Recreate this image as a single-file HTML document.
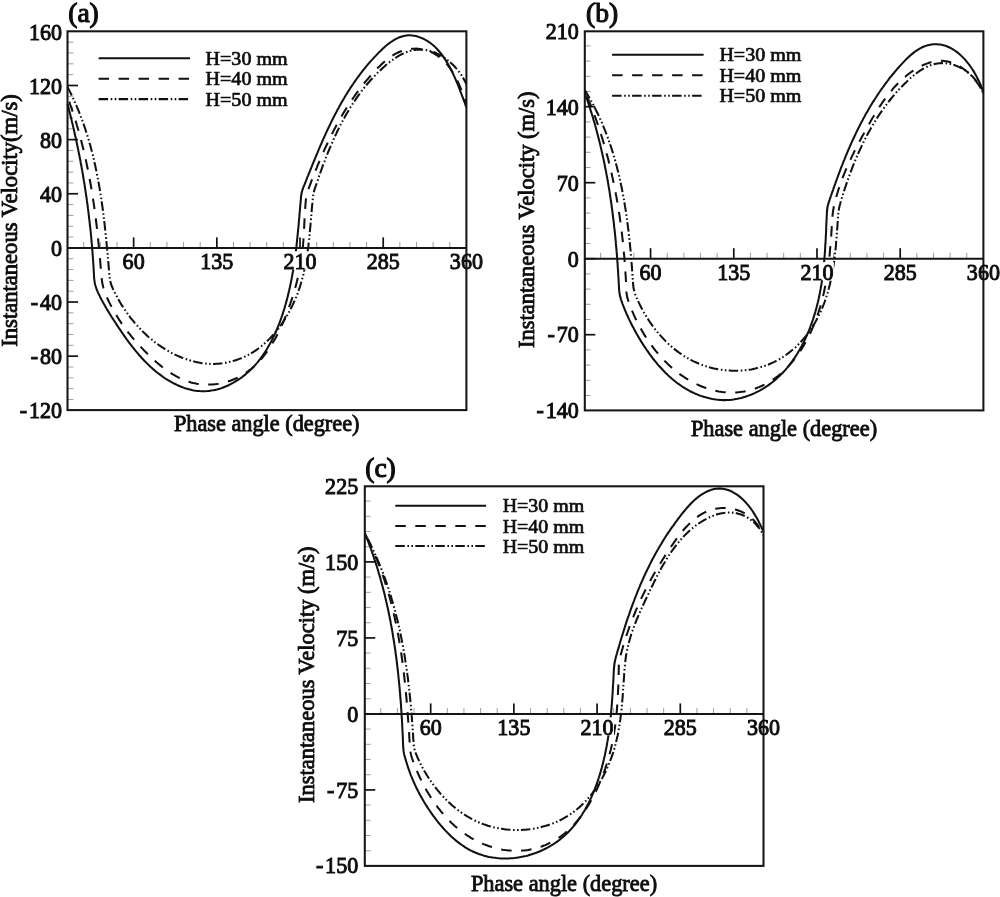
<!DOCTYPE html>
<html><head><meta charset="utf-8"><title>Instantaneous velocity vs phase angle</title>
<style>
html,body{margin:0;padding:0;background:#fff;}
body{width:1000px;height:897px;position:relative;overflow:hidden;font-family:"Liberation Serif", serif;}
svg text.t{font-family:"Liberation Serif", serif;fill:#0d0d0d;stroke:#0d0d0d;stroke-width:0.7;}
svg text.b{stroke-width:0.85;}
svg text.k{stroke-width:1.0;}
svg text.l{stroke-width:1.15;}
</style></head><body>
<svg width="1000" height="897" viewBox="0 0 1000 897" style="display:block;position:absolute;left:0;top:0;filter:grayscale(1) blur(0.45px)">
<rect x="0" y="0" width="1000" height="897" fill="#fff"/>
<g><line x1="67.50" y1="399.48" x2="73.40" y2="399.48" stroke="#999" stroke-width="0.95"/>
<line x1="67.50" y1="388.65" x2="73.40" y2="388.65" stroke="#999" stroke-width="0.95"/>
<line x1="67.50" y1="377.83" x2="73.40" y2="377.83" stroke="#999" stroke-width="0.95"/>
<line x1="67.50" y1="367.00" x2="73.40" y2="367.00" stroke="#999" stroke-width="0.95"/>
<line x1="67.50" y1="356.17" x2="78.00" y2="356.17" stroke="#111" stroke-width="1.70"/>
<line x1="67.50" y1="345.34" x2="73.40" y2="345.34" stroke="#999" stroke-width="0.95"/>
<line x1="67.50" y1="334.52" x2="73.40" y2="334.52" stroke="#999" stroke-width="0.95"/>
<line x1="67.50" y1="323.69" x2="73.40" y2="323.69" stroke="#999" stroke-width="0.95"/>
<line x1="67.50" y1="312.86" x2="73.40" y2="312.86" stroke="#999" stroke-width="0.95"/>
<line x1="67.50" y1="302.04" x2="78.00" y2="302.04" stroke="#111" stroke-width="1.70"/>
<line x1="67.50" y1="291.21" x2="73.40" y2="291.21" stroke="#999" stroke-width="0.95"/>
<line x1="67.50" y1="280.38" x2="73.40" y2="280.38" stroke="#999" stroke-width="0.95"/>
<line x1="67.50" y1="269.55" x2="73.40" y2="269.55" stroke="#999" stroke-width="0.95"/>
<line x1="67.50" y1="258.73" x2="73.40" y2="258.73" stroke="#999" stroke-width="0.95"/>
<line x1="67.50" y1="247.90" x2="78.00" y2="247.90" stroke="#111" stroke-width="1.70"/>
<line x1="67.50" y1="237.07" x2="73.40" y2="237.07" stroke="#999" stroke-width="0.95"/>
<line x1="67.50" y1="226.25" x2="73.40" y2="226.25" stroke="#999" stroke-width="0.95"/>
<line x1="67.50" y1="215.42" x2="73.40" y2="215.42" stroke="#999" stroke-width="0.95"/>
<line x1="67.50" y1="204.59" x2="73.40" y2="204.59" stroke="#999" stroke-width="0.95"/>
<line x1="67.50" y1="193.76" x2="78.00" y2="193.76" stroke="#111" stroke-width="1.70"/>
<line x1="67.50" y1="182.94" x2="73.40" y2="182.94" stroke="#999" stroke-width="0.95"/>
<line x1="67.50" y1="172.11" x2="73.40" y2="172.11" stroke="#999" stroke-width="0.95"/>
<line x1="67.50" y1="161.28" x2="73.40" y2="161.28" stroke="#999" stroke-width="0.95"/>
<line x1="67.50" y1="150.46" x2="73.40" y2="150.46" stroke="#999" stroke-width="0.95"/>
<line x1="67.50" y1="139.63" x2="78.00" y2="139.63" stroke="#111" stroke-width="1.70"/>
<line x1="67.50" y1="128.80" x2="73.40" y2="128.80" stroke="#999" stroke-width="0.95"/>
<line x1="67.50" y1="117.97" x2="73.40" y2="117.97" stroke="#999" stroke-width="0.95"/>
<line x1="67.50" y1="107.15" x2="73.40" y2="107.15" stroke="#999" stroke-width="0.95"/>
<line x1="67.50" y1="96.32" x2="73.40" y2="96.32" stroke="#999" stroke-width="0.95"/>
<line x1="67.50" y1="85.49" x2="78.00" y2="85.49" stroke="#111" stroke-width="1.70"/>
<line x1="67.50" y1="74.66" x2="73.40" y2="74.66" stroke="#999" stroke-width="0.95"/>
<line x1="67.50" y1="63.84" x2="73.40" y2="63.84" stroke="#999" stroke-width="0.95"/>
<line x1="67.50" y1="53.01" x2="73.40" y2="53.01" stroke="#999" stroke-width="0.95"/>
<line x1="67.50" y1="42.18" x2="73.40" y2="42.18" stroke="#999" stroke-width="0.95"/>
<line x1="83.74" y1="247.90" x2="83.74" y2="242.00" stroke="#999" stroke-width="0.95"/>
<line x1="100.38" y1="247.90" x2="100.38" y2="242.00" stroke="#999" stroke-width="0.95"/>
<line x1="117.01" y1="247.90" x2="117.01" y2="242.00" stroke="#999" stroke-width="0.95"/>
<line x1="133.65" y1="247.90" x2="133.65" y2="237.40" stroke="#111" stroke-width="1.70"/>
<line x1="150.29" y1="247.90" x2="150.29" y2="242.00" stroke="#999" stroke-width="0.95"/>
<line x1="166.92" y1="247.90" x2="166.92" y2="242.00" stroke="#999" stroke-width="0.95"/>
<line x1="183.56" y1="247.90" x2="183.56" y2="242.00" stroke="#999" stroke-width="0.95"/>
<line x1="200.20" y1="247.90" x2="200.20" y2="242.00" stroke="#999" stroke-width="0.95"/>
<line x1="216.84" y1="247.90" x2="216.84" y2="237.40" stroke="#111" stroke-width="1.70"/>
<line x1="233.48" y1="247.90" x2="233.48" y2="242.00" stroke="#999" stroke-width="0.95"/>
<line x1="250.11" y1="247.90" x2="250.11" y2="242.00" stroke="#999" stroke-width="0.95"/>
<line x1="266.75" y1="247.90" x2="266.75" y2="242.00" stroke="#999" stroke-width="0.95"/>
<line x1="283.39" y1="247.90" x2="283.39" y2="242.00" stroke="#999" stroke-width="0.95"/>
<line x1="300.02" y1="247.90" x2="300.02" y2="237.40" stroke="#111" stroke-width="1.70"/>
<line x1="316.66" y1="247.90" x2="316.66" y2="242.00" stroke="#999" stroke-width="0.95"/>
<line x1="333.30" y1="247.90" x2="333.30" y2="242.00" stroke="#999" stroke-width="0.95"/>
<line x1="349.94" y1="247.90" x2="349.94" y2="242.00" stroke="#999" stroke-width="0.95"/>
<line x1="366.57" y1="247.90" x2="366.57" y2="242.00" stroke="#999" stroke-width="0.95"/>
<line x1="383.21" y1="247.90" x2="383.21" y2="237.40" stroke="#111" stroke-width="1.70"/>
<line x1="399.85" y1="247.90" x2="399.85" y2="242.00" stroke="#999" stroke-width="0.95"/>
<line x1="416.49" y1="247.90" x2="416.49" y2="242.00" stroke="#999" stroke-width="0.95"/>
<line x1="433.12" y1="247.90" x2="433.12" y2="242.00" stroke="#999" stroke-width="0.95"/>
<line x1="449.76" y1="247.90" x2="449.76" y2="242.00" stroke="#999" stroke-width="0.95"/>
<path d="M67.5 104.0L68.0 105.9 68.5 107.9 69.0 109.8 69.5 111.8 70.0 113.7 70.5 115.7 71.0 117.6 71.5 119.6 71.9 121.5 72.4 123.5 72.9 125.4 73.3 127.4 73.8 129.3 74.2 131.3 74.7 133.2 75.1 135.2 75.6 137.2 76.0 139.1 76.4 141.1 76.8 143.0 77.2 145.0 77.6 147.0 78.0 148.9 78.4 150.9 78.8 152.8 79.2 154.8 79.6 156.8 80.0 158.7 80.4 160.7 80.7 162.7 81.1 164.7 81.5 166.6 81.8 168.6 82.2 170.6 82.5 172.5 82.9 174.5 83.2 176.5 83.5 178.5 83.8 180.4 84.2 182.4 84.5 184.4 84.8 186.4 85.1 188.3 85.4 190.3 85.7 192.3 86.0 194.3 86.3 196.3 86.6 198.2 86.8 200.2 87.1 202.2 87.4 204.2 87.7 206.2 87.9 208.2 88.2 210.1 88.4 212.1 88.7 214.1 88.9 216.1 89.1 218.1 89.4 220.1 89.6 222.1 89.8 224.1 90.0 226.1 90.3 228.0 90.5 230.0 90.7 232.0 90.9 234.0 91.1 236.0 91.3 238.0 91.4 240.0 91.6 242.0 91.8 244.0 92.0 246.0 92.1 248.0 92.3 250.0 92.5 252.0 92.6 254.0 92.8 256.0 92.9 258.0 93.1 260.0 93.2 262.0 93.3 264.0 93.5 266.0 93.6 268.0 93.7 270.0 93.8 272.0 93.9 274.0 94.0 276.0 94.1 278.0Q94.4 284.0 96.7 289.5L97.5 291.3 98.3 293.1 99.2 294.9 100.0 296.7 100.9 298.4 101.8 300.2 102.8 301.9 103.7 303.6 104.7 305.3 105.6 307.1 106.6 308.8 107.6 310.4 108.7 312.1 109.7 313.8 110.8 315.5 111.8 317.2 112.9 318.9 114.0 320.5 115.1 322.2 116.2 323.9 117.3 325.6 118.4 327.3 119.5 328.9 120.7 330.6 121.8 332.3 123.0 334.0 124.1 335.6 125.3 337.3 126.5 339.0 127.7 340.6 128.9 342.3 130.1 343.9 131.4 345.5 132.6 347.1 133.9 348.7 135.2 350.3 136.5 351.9 137.8 353.4 139.1 355.0 140.5 356.5 141.8 358.0 143.2 359.5 144.6 361.0 146.0 362.4 147.5 363.9 148.9 365.3 150.4 366.7 151.9 368.0 153.4 369.4 155.0 370.7 156.5 372.0 158.1 373.2 159.7 374.4 161.3 375.6 162.9 376.8 164.6 378.0 166.3 379.1 168.0 380.1 169.8 381.2 171.5 382.2 173.3 383.1 175.1 384.0 176.9 384.9 178.7 385.7 180.6 386.5 182.4 387.2 184.3 387.9 186.2 388.5 188.0 389.0 189.9 389.5 191.8 390.0 193.8 390.4 195.7 390.7 197.6 390.9 199.5 391.1 201.5 391.2 203.4 391.2 205.3 391.2 207.3 391.1 209.2 390.9 211.1 390.6 213.1 390.3 215.0 389.9 216.9 389.5 218.8 388.9 220.7 388.4 222.5 387.7 224.4 387.0 226.2 386.3 228.0 385.5 229.8 384.6 231.6 383.7 233.4 382.7 235.1 381.7 236.8 380.7 238.5 379.6 240.1 378.5 241.8 377.3 243.3 376.1 244.9 374.9 246.4 373.6 247.9 372.3 249.4 371.0 250.8 369.6 252.2 368.2 253.6 366.8 254.9 365.3 256.2 363.8 257.5 362.3 258.7 360.8 260.0 359.2 261.2 357.6 262.3 356.0 263.5 354.4 264.6 352.7 265.7 351.0 266.8 349.3 267.8 347.6 268.8 345.8 269.8 344.1 270.8 342.3 271.7 340.5 272.6 338.7 273.5 336.9 274.4 335.0 275.2 333.2 276.1 331.3 276.9 329.4 277.7 327.5 278.4 325.6 279.2 323.7 279.9 321.8 280.6 319.9 281.3 318.0 282.0 316.0 282.6 314.1 283.2 312.1 283.9 310.2 284.5 308.2 285.0 306.3 285.6 304.3 286.1 302.4 286.7 300.4 287.2 298.5 287.7 296.5 288.2 294.6 288.6 292.6 289.1 290.7 289.5 288.7 290.0 286.8 290.4 284.8 290.8 282.9 291.2 280.9 291.6 279.0 291.9 277.1 292.3 275.1 292.6 273.2 293.0 271.2 293.3 269.3 293.6 267.3 293.9 265.4 294.2 263.4 294.5 261.5 294.8 259.6 295.0 257.6 295.3 255.7 295.5 253.7 295.8 251.8 296.0 249.8 296.3 247.8 296.5 245.9 296.7 243.9 296.9 242.0 297.1 240.0 297.3 238.0 297.5 236.1 297.7 234.1 297.9 232.1 298.1 230.2 298.3 228.2 298.5 226.2 298.7 224.2 298.8 222.2 299.0 220.2 299.2 218.2 299.4 216.3 299.5 214.3 299.7 212.2 299.9 210.2 300.1 208.2 300.2 206.2 300.4 204.2 300.6 202.2 300.8 200.2 300.9 198.1 301.1 196.1Q301.5 192.0 303.0 188.3L303.7 186.5 304.5 184.6 305.2 182.8 306.0 180.9 306.7 179.0 307.4 177.2 308.2 175.3 308.9 173.5 309.7 171.6 310.4 169.8 311.2 167.9 311.9 166.1 312.7 164.2 313.4 162.4 314.2 160.5 315.0 158.7 315.7 156.8 316.5 155.0 317.3 153.1 318.0 151.3 318.8 149.4 319.6 147.6 320.4 145.7 321.2 143.9 322.0 142.1 322.8 140.2 323.6 138.4 324.4 136.6 325.3 134.7 326.1 132.9 326.9 131.1 327.8 129.3 328.6 127.5 329.5 125.7 330.4 123.9 331.2 122.1 332.1 120.3 333.0 118.5 333.9 116.7 334.8 114.9 335.7 113.2 336.7 111.4 337.6 109.6 338.6 107.9 339.5 106.1 340.5 104.4 341.5 102.6 342.5 100.9 343.5 99.2 344.5 97.5 345.5 95.7 346.6 94.0 347.6 92.3 348.7 90.6 349.8 89.0 350.8 87.3 352.0 85.6 353.1 84.0 354.2 82.3 355.4 80.7 356.5 79.0 357.7 77.4 358.9 75.8 360.1 74.2 361.3 72.6 362.5 71.0 363.8 69.4 365.1 67.8 366.4 66.2 367.7 64.7 369.0 63.1 370.3 61.6 371.7 60.1 373.1 58.6 374.4 57.1 375.9 55.6 377.3 54.1 378.7 52.6 380.2 51.2 381.7 49.7 383.2 48.3 384.7 47.0 386.3 45.6 387.8 44.3 389.4 43.1 391.0 42.0 392.7 40.9 394.3 39.8 396.0 38.9 397.7 38.1 399.4 37.3 401.1 36.7 402.9 36.2 404.7 35.8 406.5 35.5 408.3 35.3 410.2 35.3 412.0 35.5 413.9 35.7 415.8 36.1 417.7 36.6 419.5 37.2 421.4 37.9 423.2 38.7 425.0 39.6 426.7 40.6 428.4 41.6 430.1 42.8 431.6 44.0 433.2 45.3 434.7 46.6 436.1 48.0 437.5 49.5 438.9 51.0 440.2 52.6 441.5 54.2 442.7 55.9 443.9 57.6 445.1 59.3 446.2 61.1 447.3 62.9 448.4 64.7 449.4 66.5 450.4 68.4 451.3 70.3 452.3 72.1 453.2 74.0 454.0 75.9 454.9 77.8 455.7 79.7 456.5 81.6 457.3 83.4 458.1 85.3 458.8 87.1 459.5 89.0 460.2 90.8 460.9 92.6 461.6 94.5 462.3 96.3 463.0 98.1 463.6 99.9 464.3 101.7 465.0 103.5 465.6 105.4 466.3 107.2" fill="none" stroke="#111" stroke-width="2.05" stroke-linejoin="round"/>
<path d="M67.5 97.0L68.2 98.9 68.9 100.8 69.6 102.7 70.2 104.6 70.9 106.5 71.6 108.4 72.2 110.3 72.8 112.2 73.5 114.1 74.1 116.0 74.7 118.0 75.3 119.9 75.9 121.8 76.5 123.7 77.0 125.7 77.6 127.6 78.2 129.5 78.7 131.4 79.2 133.4 79.8 135.3 80.3 137.2 80.8 139.2 81.3 141.1 81.8 143.1 82.3 145.0 82.8 147.0 83.3 148.9 83.7 150.9 84.2 152.8 84.7 154.8 85.1 156.7 85.5 158.7 86.0 160.6 86.4 162.6 86.8 164.6 87.2 166.5 87.6 168.5 88.0 170.5 88.4 172.4 88.8 174.4 89.2 176.4 89.5 178.3 89.9 180.3 90.3 182.3 90.6 184.3 91.0 186.2 91.3 188.2 91.6 190.2 92.0 192.2 92.3 194.2 92.6 196.1 92.9 198.1 93.2 200.1 93.5 202.1 93.8 204.1 94.1 206.1 94.4 208.1 94.6 210.1 94.9 212.0 95.2 214.0 95.4 216.0 95.7 218.0 95.9 220.0 96.2 222.0 96.4 224.0 96.7 226.0 96.9 228.0 97.1 230.0 97.4 232.0 97.6 234.0 97.8 236.0 98.0 238.0 98.2 240.0 98.4 242.0 98.6 244.0 98.8 246.0 99.0 248.0 99.2 250.0 99.4 252.0 99.6 254.0 99.7 256.0 99.9 258.0 100.1 260.0 100.3 262.0 100.4 264.0 100.6 266.0 100.8 268.0 100.9 270.0 101.1 272.0 101.2 274.0 101.4 276.0Q101.8 282.0 103.4 287.8L104.1 289.8 104.7 291.6 105.4 293.5 106.2 295.4 106.9 297.2 107.7 299.0 108.5 300.8 109.4 302.6 110.3 304.4 111.2 306.1 112.1 307.9 113.1 309.6 114.0 311.3 115.0 313.1 116.0 314.8 117.1 316.4 118.1 318.1 119.2 319.8 120.3 321.4 121.4 323.1 122.5 324.7 123.7 326.3 124.8 327.9 126.0 329.5 127.2 331.1 128.4 332.7 129.7 334.2 131.0 335.8 132.2 337.3 133.5 338.9 134.8 340.4 136.2 341.9 137.5 343.4 138.9 344.9 140.3 346.4 141.7 347.9 143.1 349.4 144.5 350.9 146.0 352.3 147.4 353.8 148.9 355.2 150.4 356.7 151.9 358.1 153.4 359.5 154.9 360.9 156.5 362.2 158.1 363.6 159.7 364.9 161.3 366.2 162.9 367.5 164.5 368.7 166.2 369.9 167.8 371.1 169.5 372.2 171.2 373.3 172.9 374.4 174.7 375.4 176.4 376.4 178.2 377.3 180.0 378.2 181.8 379.0 183.6 379.8 185.4 380.5 187.3 381.2 189.1 381.8 191.0 382.4 192.9 382.9 194.9 383.3 196.8 383.7 198.8 384.0 200.7 384.2 202.7 384.4 204.7 384.5 206.7 384.6 208.7 384.6 210.7 384.5 212.7 384.4 214.7 384.2 216.6 384.0 218.6 383.7 220.6 383.3 222.6 382.9 224.5 382.4 226.5 381.9 228.4 381.3 230.3 380.7 232.1 380.0 234.0 379.3 235.8 378.5 237.6 377.7 239.4 376.8 241.1 375.8 242.8 374.8 244.4 373.8 246.1 372.7 247.7 371.6 249.2 370.4 250.8 369.2 252.3 368.0 253.7 366.7 255.2 365.3 256.6 364.0 258.0 362.6 259.3 361.1 260.7 359.7 262.0 358.1 263.2 356.6 264.5 355.0 265.7 353.4 266.9 351.8 268.1 350.2 269.2 348.5 270.3 346.8 271.4 345.1 272.5 343.3 273.5 341.6 274.6 339.8 275.6 338.0 276.5 336.2 277.5 334.3 278.4 332.5 279.3 330.6 280.2 328.8 281.1 326.9 282.0 325.0 282.8 323.1 283.6 321.2 284.4 319.3 285.2 317.4 286.0 315.5 286.7 313.6 287.4 311.7 288.1 309.8 288.8 307.8 289.5 305.9 290.2 304.0 290.8 302.1 291.5 300.2 292.1 298.4 292.7 296.5 293.3 294.6 293.9 292.7 294.4 290.8 295.0 288.9 295.5 287.0 296.0 285.1 296.5 283.2 297.0 281.3 297.4 279.4 297.9 277.5 298.3 275.6 298.7 273.7 299.1 271.8 299.5 269.9 299.9 268.0 300.2 266.1 300.6 264.1 300.9 262.2 301.2 260.3 301.5 258.3 301.8 256.4 302.0 254.4 302.3 252.4 302.5 250.4 302.7 248.4 302.9 246.4 303.1 244.4 303.2 242.4 303.4 240.4 303.5 238.4 303.6 236.3 303.8 234.3 303.9 232.2 304.0 230.2 304.1 228.1 304.2 226.1 304.3 224.1 304.4 222.0 304.5 220.0 304.6 217.9 304.7 215.9 304.8 213.8 305.0 211.8 305.1 209.8 305.2 207.8 305.4 205.8 305.5 203.8 305.7 201.8 305.9 199.8 306.1 197.9Q306.6 194.0 308.0 190.2L308.7 188.4 309.4 186.5 310.1 184.6 310.8 182.8 311.5 180.9 312.2 179.0 313.0 177.2 313.7 175.3 314.4 173.4 315.2 171.6 315.9 169.7 316.7 167.8 317.4 166.0 318.2 164.1 319.0 162.3 319.8 160.4 320.5 158.6 321.3 156.8 322.1 154.9 322.9 153.1 323.8 151.2 324.6 149.4 325.4 147.6 326.3 145.8 327.1 144.0 328.0 142.1 328.8 140.3 329.7 138.5 330.6 136.7 331.5 134.9 332.4 133.2 333.3 131.4 334.2 129.6 335.2 127.8 336.1 126.1 337.1 124.3 338.0 122.5 339.0 120.8 340.0 119.0 341.0 117.3 342.0 115.6 343.0 113.8 344.0 112.1 345.1 110.4 346.1 108.7 347.2 107.0 348.3 105.3 349.4 103.6 350.5 102.0 351.6 100.3 352.7 98.6 353.9 97.0 355.0 95.4 356.2 93.7 357.4 92.1 358.6 90.5 359.8 88.9 361.0 87.3 362.3 85.7 363.6 84.1 364.8 82.5 366.1 80.9 367.4 79.4 368.7 77.9 370.1 76.3 371.4 74.8 372.8 73.3 374.2 71.8 375.6 70.3 377.0 68.8 378.4 67.3 379.9 65.9 381.4 64.5 382.9 63.1 384.4 61.7 385.9 60.4 387.5 59.2 389.1 58.0 390.7 56.8 392.4 55.7 394.0 54.7 395.7 53.7 397.5 52.8 399.2 52.0 401.0 51.3 402.9 50.6 404.7 50.1 406.6 49.6 408.5 49.3 410.4 49.0 412.3 48.8 414.2 48.7 416.1 48.6 418.1 48.7 420.0 48.9 421.9 49.2 423.7 49.5 425.6 50.0 427.4 50.5 429.2 51.2 431.0 52.0 432.8 52.8 434.5 53.8 436.2 54.8 437.8 55.9 439.4 57.1 441.0 58.3 442.5 59.7 444.0 61.1 445.4 62.6 446.8 64.1 448.1 65.7 449.4 67.3 450.6 69.0 451.8 70.8 452.9 72.5 454.0 74.3 455.0 76.2 456.0 78.1 457.0 80.0 457.9 81.9 458.8 83.8 459.6 85.7 460.4 87.6 461.2 89.5 461.9 91.5 462.6 93.4 463.3 95.2 464.0 97.1 464.6 98.9 465.2 100.7 465.7 102.5 466.3 104.2" fill="none" stroke="#111" stroke-width="2.05" stroke-linejoin="round" stroke-dasharray="10.5 9.5" stroke-dashoffset="-5"/>
<path d="M67.5 87.0L68.4 88.8 69.4 90.6 70.3 92.4 71.2 94.3 72.1 96.1 72.9 97.9 73.8 99.7 74.6 101.6 75.4 103.4 76.3 105.3 77.0 107.1 77.8 109.0 78.6 110.9 79.3 112.7 80.1 114.6 80.8 116.5 81.5 118.3 82.2 120.2 82.9 122.1 83.6 124.0 84.2 125.9 84.9 127.8 85.5 129.7 86.1 131.6 86.7 133.5 87.3 135.4 87.9 137.3 88.5 139.2 89.1 141.2 89.6 143.1 90.2 145.0 90.7 147.0 91.2 148.9 91.7 150.8 92.2 152.8 92.7 154.7 93.2 156.6 93.6 158.6 94.1 160.5 94.5 162.5 95.0 164.5 95.4 166.4 95.8 168.4 96.2 170.3 96.6 172.3 97.0 174.3 97.4 176.2 97.8 178.2 98.2 180.2 98.5 182.2 98.9 184.1 99.2 186.1 99.6 188.1 99.9 190.1 100.2 192.1 100.5 194.0 100.9 196.0 101.2 198.0 101.4 200.0 101.7 202.0 102.0 204.0 102.3 206.0 102.6 208.0 102.8 210.0 103.1 212.0 103.4 214.0 103.6 216.0 103.8 218.0 104.1 220.0 104.3 222.0 104.6 224.0 104.8 226.0 105.0 228.0 105.2 230.0 105.4 232.0 105.6 234.0 105.9 236.0 106.1 238.0 106.3 240.0 106.5 242.0 106.6 244.0 106.8 246.0 107.0 248.0 107.2 250.0 107.4 252.0 107.6 254.0 107.8 256.0 107.9 258.0 108.1 260.0 108.3 262.0 108.5 264.0 108.6 266.0 108.8 268.0 109.0 270.0 109.2 272.0 109.3 274.0 109.5 276.0Q110.0 282.0 112.3 287.4L113.1 289.2 114.0 290.9 114.8 292.7 115.7 294.5 116.7 296.2 117.6 298.0 118.6 299.7 119.6 301.5 120.6 303.2 121.6 304.9 122.7 306.6 123.8 308.3 124.9 309.9 126.0 311.6 127.2 313.2 128.4 314.9 129.6 316.5 130.8 318.1 132.1 319.7 133.4 321.2 134.7 322.8 136.0 324.3 137.4 325.8 138.7 327.3 140.1 328.8 141.5 330.3 143.0 331.7 144.4 333.1 145.9 334.5 147.4 335.9 148.9 337.2 150.5 338.5 152.1 339.8 153.6 341.1 155.2 342.4 156.9 343.6 158.5 344.8 160.2 345.9 161.9 347.1 163.6 348.2 165.3 349.3 167.1 350.3 168.8 351.3 170.6 352.3 172.4 353.3 174.2 354.2 176.0 355.1 177.9 355.9 179.7 356.7 181.6 357.5 183.5 358.2 185.4 358.9 187.3 359.6 189.2 360.2 191.1 360.8 193.0 361.3 195.0 361.8 196.9 362.2 198.9 362.6 200.8 362.9 202.8 363.2 204.7 363.5 206.7 363.7 208.6 363.8 210.6 363.9 212.6 363.9 214.5 363.9 216.5 363.8 218.4 363.7 220.4 363.5 222.3 363.3 224.3 363.0 226.2 362.7 228.1 362.3 230.0 361.8 231.9 361.3 233.8 360.8 235.7 360.2 237.6 359.6 239.4 358.9 241.2 358.2 243.0 357.4 244.8 356.6 246.6 355.7 248.4 354.8 250.1 353.9 251.8 352.9 253.5 351.9 255.1 350.8 256.8 349.7 258.4 348.5 259.9 347.3 261.5 346.1 263.0 344.8 264.5 343.5 266.0 342.2 267.5 340.8 268.9 339.4 270.3 338.0 271.7 336.5 273.0 335.0 274.4 333.5 275.7 332.0 276.9 330.4 278.2 328.8 279.4 327.2 280.6 325.5 281.8 323.9 282.9 322.2 284.0 320.5 285.1 318.8 286.2 317.0 287.2 315.2 288.3 313.5 289.2 311.7 290.2 309.9 291.1 308.0 292.1 306.2 292.9 304.4 293.8 302.5 294.6 300.6 295.4 298.8 296.2 296.9 296.9 295.0 297.7 293.1 298.4 291.2 299.0 289.3 299.7 287.4 300.3 285.5 300.9 283.6 301.4 281.7 302.0 279.8 302.5 277.8 303.0 275.9 303.5 274.0 303.9 272.1 304.3 270.1 304.8 268.2 305.2 266.3 305.5 264.3 305.9 262.4 306.2 260.4 306.6 258.5 306.9 256.5 307.2 254.6 307.5 252.6 307.7 250.7 308.0 248.7 308.3 246.7 308.5 244.8 308.7 242.8 308.9 240.8 309.2 238.9 309.4 236.9 309.6 234.9 309.8 232.9 309.9 230.9 310.1 229.0 310.3 227.0 310.5 225.0 310.6 223.0 310.8 221.0 311.0 219.0 311.2 217.0 311.3 215.0 311.5 213.0 311.7 211.0 311.8 209.0 312.0 207.0 312.2 205.0 312.4 203.0 312.6 201.0 312.8 199.0 313.0 197.0Q313.4 193.0 314.6 189.3L315.2 187.4 315.9 185.6 316.5 183.7 317.1 181.8 317.8 180.0 318.4 178.1 319.1 176.2 319.7 174.3 320.4 172.5 321.1 170.6 321.8 168.7 322.4 166.8 323.1 164.9 323.8 163.1 324.6 161.2 325.3 159.3 326.0 157.4 326.7 155.6 327.5 153.7 328.2 151.8 329.0 150.0 329.8 148.1 330.6 146.3 331.4 144.4 332.2 142.6 333.0 140.7 333.8 138.9 334.7 137.0 335.5 135.2 336.4 133.4 337.2 131.5 338.1 129.7 339.0 127.9 339.9 126.1 340.8 124.3 341.8 122.5 342.7 120.8 343.7 119.0 344.7 117.2 345.6 115.5 346.6 113.7 347.7 112.0 348.7 110.2 349.7 108.5 350.8 106.8 351.9 105.1 352.9 103.4 354.0 101.7 355.2 100.1 356.3 98.4 357.5 96.7 358.6 95.1 359.8 93.5 361.0 91.9 362.2 90.3 363.5 88.7 364.7 87.1 366.0 85.6 367.3 84.0 368.6 82.5 369.9 81.0 371.2 79.5 372.6 78.0 374.0 76.5 375.4 75.1 376.8 73.6 378.2 72.2 379.7 70.8 381.2 69.4 382.7 68.0 384.2 66.7 385.7 65.3 387.3 64.0 388.9 62.7 390.5 61.5 392.1 60.3 393.7 59.1 395.4 58.0 397.0 56.9 398.7 55.9 400.4 54.9 402.2 54.0 403.9 53.2 405.7 52.4 407.5 51.8 409.3 51.2 411.1 50.7 412.9 50.2 414.8 49.9 416.6 49.7 418.5 49.6 420.4 49.6 422.3 49.6 424.2 49.8 426.1 50.0 427.9 50.4 429.8 50.9 431.7 51.4 433.5 52.0 435.4 52.8 437.2 53.6 439.0 54.5 440.8 55.5 442.6 56.6 444.3 57.7 446.0 58.9 447.7 60.2 449.3 61.5 450.9 62.9 452.4 64.3 453.9 65.8 455.3 67.3 456.7 68.9 458.0 70.5 459.3 72.1 460.5 73.8 461.7 75.5 462.7 77.2 463.7 78.9 464.7 80.7 465.5 82.4 466.3 84.2" fill="none" stroke="#111" stroke-width="2.05" stroke-linejoin="round" stroke-dasharray="9.5 2.6 1.6 2.4 1.6 2.3"/>
<rect x="122.35" y="251.30" width="22.60" height="18.20" fill="#fff"/>
<rect x="199.94" y="251.30" width="33.80" height="18.20" fill="#fff"/>
<rect x="283.12" y="251.30" width="33.80" height="18.20" fill="#fff"/>
<rect x="366.31" y="251.30" width="33.80" height="18.20" fill="#fff"/>
<rect x="449.50" y="251.30" width="33.80" height="18.20" fill="#fff"/>
<rect x="67.50" y="31.30" width="398.90" height="378.80" fill="none" stroke="#151515" stroke-width="2.05"/>
<line x1="67.50" y1="247.90" x2="466.40" y2="247.90" stroke="#151515" stroke-width="2.05"/>
<text transform="translate(62.00 417.81) scale(0.92 1)" text-anchor="end" font-size="24.0" class="t k">-<tspan dx="2.0">120</tspan></text>
<text transform="translate(62.00 363.81) scale(0.92 1)" text-anchor="end" font-size="24.0" class="t k">-<tspan dx="2.0">80</tspan></text>
<text transform="translate(62.00 309.82) scale(0.92 1)" text-anchor="end" font-size="24.0" class="t k">-<tspan dx="2.0">40</tspan></text>
<text transform="translate(62.00 255.83) scale(0.92 1)" text-anchor="end" font-size="24.0" class="t k">0</text>
<text transform="translate(62.00 201.84) scale(0.92 1)" text-anchor="end" font-size="24.0" class="t k">40</text>
<text transform="translate(62.00 147.84) scale(0.92 1)" text-anchor="end" font-size="24.0" class="t k">80</text>
<text transform="translate(62.00 93.85) scale(0.92 1)" text-anchor="end" font-size="24.0" class="t k">120</text>
<text transform="translate(62.00 39.86) scale(0.92 1)" text-anchor="end" font-size="24.0" class="t k">160</text>
<text transform="translate(133.65 269.20) scale(0.92 1)" text-anchor="middle" font-size="24.0" class="t k">60</text>
<text transform="translate(216.84 269.20) scale(0.92 1)" text-anchor="middle" font-size="24.0" class="t k">135</text>
<text transform="translate(300.02 269.20) scale(0.92 1)" text-anchor="middle" font-size="24.0" class="t k">210</text>
<text transform="translate(383.21 269.20) scale(0.92 1)" text-anchor="middle" font-size="24.0" class="t k">285</text>
<text transform="translate(466.40 269.20) scale(0.92 1)" text-anchor="middle" font-size="24.0" class="t k">360</text>
<text x="266.70" y="430.90" text-anchor="middle" font-size="22.6" class="t b" textLength="185.5" lengthAdjust="spacingAndGlyphs">Phase angle (degree)</text>
<text transform="translate(16.80 220.50) rotate(-90)" text-anchor="middle" font-size="22.6" class="t b" textLength="252.5" lengthAdjust="spacingAndGlyphs">Instantaneous Velocity(m/s)</text>
<text x="68.20" y="21.60" font-size="27.6" class="t l">(a)</text>
<line x1="98.60" y1="58.20" x2="190.00" y2="58.20" stroke="#111" stroke-width="2.05"/>
<text x="205.60" y="64.70" font-size="19.5" class="t" textLength="82.0" lengthAdjust="spacingAndGlyphs">H=30 mm</text>
<line x1="98.60" y1="78.80" x2="190.00" y2="78.80" stroke="#111" stroke-width="2.05" stroke-dasharray="10.5 9.5"/>
<text x="205.60" y="85.30" font-size="19.5" class="t" textLength="82.0" lengthAdjust="spacingAndGlyphs">H=40 mm</text>
<line x1="98.60" y1="99.10" x2="190.00" y2="99.10" stroke="#111" stroke-width="2.05" stroke-dasharray="9.5 2.6 1.6 2.4 1.6 2.3"/>
<text x="205.60" y="105.60" font-size="19.5" class="t" textLength="82.0" lengthAdjust="spacingAndGlyphs">H=50 mm</text></g>
<g><line x1="584.80" y1="395.50" x2="590.70" y2="395.50" stroke="#999" stroke-width="0.95"/>
<line x1="584.80" y1="380.30" x2="590.70" y2="380.30" stroke="#999" stroke-width="0.95"/>
<line x1="584.80" y1="365.10" x2="590.70" y2="365.10" stroke="#999" stroke-width="0.95"/>
<line x1="584.80" y1="349.90" x2="590.70" y2="349.90" stroke="#999" stroke-width="0.95"/>
<line x1="584.80" y1="334.70" x2="595.30" y2="334.70" stroke="#111" stroke-width="1.70"/>
<line x1="584.80" y1="319.50" x2="590.70" y2="319.50" stroke="#999" stroke-width="0.95"/>
<line x1="584.80" y1="304.30" x2="590.70" y2="304.30" stroke="#999" stroke-width="0.95"/>
<line x1="584.80" y1="289.10" x2="590.70" y2="289.10" stroke="#999" stroke-width="0.95"/>
<line x1="584.80" y1="273.90" x2="590.70" y2="273.90" stroke="#999" stroke-width="0.95"/>
<line x1="584.80" y1="258.70" x2="595.30" y2="258.70" stroke="#111" stroke-width="1.70"/>
<line x1="584.80" y1="243.50" x2="590.70" y2="243.50" stroke="#999" stroke-width="0.95"/>
<line x1="584.80" y1="228.30" x2="590.70" y2="228.30" stroke="#999" stroke-width="0.95"/>
<line x1="584.80" y1="213.10" x2="590.70" y2="213.10" stroke="#999" stroke-width="0.95"/>
<line x1="584.80" y1="197.90" x2="590.70" y2="197.90" stroke="#999" stroke-width="0.95"/>
<line x1="584.80" y1="182.70" x2="595.30" y2="182.70" stroke="#111" stroke-width="1.70"/>
<line x1="584.80" y1="167.50" x2="590.70" y2="167.50" stroke="#999" stroke-width="0.95"/>
<line x1="584.80" y1="152.30" x2="590.70" y2="152.30" stroke="#999" stroke-width="0.95"/>
<line x1="584.80" y1="137.10" x2="590.70" y2="137.10" stroke="#999" stroke-width="0.95"/>
<line x1="584.80" y1="121.90" x2="590.70" y2="121.90" stroke="#999" stroke-width="0.95"/>
<line x1="584.80" y1="106.70" x2="595.30" y2="106.70" stroke="#111" stroke-width="1.70"/>
<line x1="584.80" y1="91.50" x2="590.70" y2="91.50" stroke="#999" stroke-width="0.95"/>
<line x1="584.80" y1="76.30" x2="590.70" y2="76.30" stroke="#999" stroke-width="0.95"/>
<line x1="584.80" y1="61.10" x2="590.70" y2="61.10" stroke="#999" stroke-width="0.95"/>
<line x1="584.80" y1="45.90" x2="590.70" y2="45.90" stroke="#999" stroke-width="0.95"/>
<line x1="600.64" y1="258.70" x2="600.64" y2="252.80" stroke="#999" stroke-width="0.95"/>
<line x1="617.28" y1="258.70" x2="617.28" y2="252.80" stroke="#999" stroke-width="0.95"/>
<line x1="633.92" y1="258.70" x2="633.92" y2="252.80" stroke="#999" stroke-width="0.95"/>
<line x1="650.57" y1="258.70" x2="650.57" y2="248.20" stroke="#111" stroke-width="1.70"/>
<line x1="667.21" y1="258.70" x2="667.21" y2="252.80" stroke="#999" stroke-width="0.95"/>
<line x1="683.85" y1="258.70" x2="683.85" y2="252.80" stroke="#999" stroke-width="0.95"/>
<line x1="700.49" y1="258.70" x2="700.49" y2="252.80" stroke="#999" stroke-width="0.95"/>
<line x1="717.13" y1="258.70" x2="717.13" y2="252.80" stroke="#999" stroke-width="0.95"/>
<line x1="733.77" y1="258.70" x2="733.77" y2="248.20" stroke="#111" stroke-width="1.70"/>
<line x1="750.42" y1="258.70" x2="750.42" y2="252.80" stroke="#999" stroke-width="0.95"/>
<line x1="767.06" y1="258.70" x2="767.06" y2="252.80" stroke="#999" stroke-width="0.95"/>
<line x1="783.70" y1="258.70" x2="783.70" y2="252.80" stroke="#999" stroke-width="0.95"/>
<line x1="800.34" y1="258.70" x2="800.34" y2="252.80" stroke="#999" stroke-width="0.95"/>
<line x1="816.98" y1="258.70" x2="816.98" y2="248.20" stroke="#111" stroke-width="1.70"/>
<line x1="833.62" y1="258.70" x2="833.62" y2="252.80" stroke="#999" stroke-width="0.95"/>
<line x1="850.27" y1="258.70" x2="850.27" y2="252.80" stroke="#999" stroke-width="0.95"/>
<line x1="866.91" y1="258.70" x2="866.91" y2="252.80" stroke="#999" stroke-width="0.95"/>
<line x1="883.55" y1="258.70" x2="883.55" y2="252.80" stroke="#999" stroke-width="0.95"/>
<line x1="900.19" y1="258.70" x2="900.19" y2="248.20" stroke="#111" stroke-width="1.70"/>
<line x1="916.83" y1="258.70" x2="916.83" y2="252.80" stroke="#999" stroke-width="0.95"/>
<line x1="933.48" y1="258.70" x2="933.48" y2="252.80" stroke="#999" stroke-width="0.95"/>
<line x1="950.12" y1="258.70" x2="950.12" y2="252.80" stroke="#999" stroke-width="0.95"/>
<line x1="966.76" y1="258.70" x2="966.76" y2="252.80" stroke="#999" stroke-width="0.95"/>
<path d="M584.8 93.0L585.5 94.9 586.1 96.8 586.8 98.7 587.5 100.6 588.1 102.5 588.7 104.4 589.4 106.3 590.0 108.3 590.6 110.2 591.2 112.1 591.8 114.0 592.4 115.9 593.0 117.9 593.5 119.8 594.1 121.7 594.7 123.6 595.2 125.6 595.8 127.5 596.3 129.4 596.8 131.4 597.3 133.3 597.8 135.2 598.3 137.2 598.8 139.1 599.3 141.1 599.8 143.0 600.3 145.0 600.7 146.9 601.2 148.9 601.6 150.8 602.1 152.8 602.5 154.7 603.0 156.7 603.4 158.6 603.8 160.6 604.2 162.6 604.6 164.5 605.0 166.5 605.4 168.5 605.8 170.4 606.2 172.4 606.5 174.4 606.9 176.3 607.3 178.3 607.6 180.3 608.0 182.3 608.3 184.2 608.6 186.2 609.0 188.2 609.3 190.2 609.6 192.1 609.9 194.1 610.2 196.1 610.5 198.1 610.8 200.1 611.1 202.1 611.4 204.0 611.6 206.0 611.9 208.0 612.2 210.0 612.4 212.0 612.7 214.0 612.9 216.0 613.2 218.0 613.4 220.0 613.7 222.0 613.9 223.9 614.1 225.9 614.3 227.9 614.6 229.9 614.8 231.9 615.0 233.9 615.2 235.9 615.4 237.9 615.6 239.9 615.8 241.9 615.9 243.9 616.1 245.9 616.3 247.9 616.5 249.9 616.6 251.9 616.8 253.9 617.0 255.9 617.1 257.9 617.3 259.9 617.4 261.9 617.6 263.9 617.7 265.9 617.8 267.9 618.0 269.9 618.1 271.9 618.2 274.0 618.3 276.0 618.5 278.0 618.6 280.0 618.7 282.0 618.8 284.0 618.9 286.0 619.0 288.0 619.1 290.0Q619.3 294.0 621.0 299.6L621.7 301.4 622.3 303.3 623.0 305.1 623.7 306.9 624.4 308.7 625.2 310.6 626.0 312.4 626.7 314.2 627.6 316.0 628.4 317.8 629.2 319.6 630.1 321.4 631.0 323.2 631.9 325.0 632.8 326.7 633.8 328.5 634.7 330.3 635.7 332.1 636.7 333.9 637.7 335.6 638.7 337.4 639.8 339.1 640.8 340.9 641.9 342.6 643.0 344.4 644.1 346.1 645.3 347.8 646.4 349.5 647.6 351.2 648.8 352.9 650.0 354.6 651.2 356.2 652.4 357.9 653.7 359.5 655.0 361.1 656.3 362.7 657.6 364.3 658.9 365.8 660.3 367.3 661.7 368.8 663.1 370.3 664.5 371.8 665.9 373.2 667.4 374.6 668.8 376.0 670.3 377.3 671.9 378.7 673.4 380.0 675.0 381.2 676.5 382.5 678.1 383.7 679.8 384.8 681.4 386.0 683.1 387.1 684.8 388.1 686.5 389.1 688.2 390.1 690.0 391.1 691.7 392.0 693.5 392.8 695.3 393.7 697.2 394.4 699.0 395.2 700.9 395.9 702.7 396.5 704.6 397.1 706.5 397.6 708.4 398.1 710.3 398.6 712.3 399.0 714.2 399.3 716.1 399.6 718.1 399.8 720.0 400.0 722.0 400.1 723.9 400.1 725.9 400.1 727.9 400.0 729.8 399.9 731.8 399.7 733.7 399.5 735.7 399.1 737.6 398.8 739.6 398.3 741.5 397.9 743.4 397.3 745.4 396.7 747.3 396.1 749.1 395.4 751.0 394.7 752.9 393.9 754.7 393.1 756.5 392.2 758.3 391.3 760.1 390.4 761.8 389.4 763.5 388.3 765.2 387.3 766.9 386.2 768.5 385.1 770.1 383.9 771.7 382.7 773.3 381.5 774.8 380.2 776.3 378.9 777.7 377.6 779.2 376.3 780.6 374.9 782.0 373.5 783.4 372.0 784.7 370.6 786.0 369.1 787.3 367.6 788.5 366.1 789.8 364.5 791.0 362.9 792.2 361.3 793.3 359.7 794.5 358.0 795.6 356.4 796.6 354.7 797.7 353.0 798.7 351.2 799.8 349.5 800.7 347.7 801.7 346.0 802.6 344.2 803.6 342.4 804.5 340.5 805.3 338.7 806.2 336.9 807.0 335.0 807.8 333.1 808.6 331.3 809.4 329.4 810.1 327.5 810.8 325.5 811.5 323.6 812.2 321.7 812.9 319.8 813.5 317.8 814.1 315.9 814.7 313.9 815.3 312.0 815.8 310.0 816.4 308.1 816.9 306.1 817.4 304.1 817.9 302.2 818.3 300.2 818.8 298.3 819.2 296.3 819.6 294.3 820.0 292.4 820.3 290.4 820.7 288.5 821.0 286.5 821.4 284.5 821.7 282.6 822.0 280.6 822.2 278.7 822.5 276.7 822.8 274.8 823.0 272.8 823.2 270.8 823.4 268.9 823.7 266.9 823.8 265.0 824.0 263.0 824.2 261.0 824.4 259.1 824.5 257.1 824.7 255.1 824.8 253.1 825.0 251.2 825.1 249.2 825.2 247.2 825.3 245.2 825.5 243.2 825.6 241.3 825.7 239.3 825.8 237.3 825.9 235.3 826.0 233.3 826.1 231.3 826.2 229.3 826.2 227.3 826.3 225.3 826.4 223.3 826.5 221.2 826.6 219.2 826.7 217.2 826.8 215.2 826.9 213.1 827.0 211.1Q827.2 207.0 828.5 203.2L829.1 201.3 829.8 199.4 830.4 197.4 831.1 195.5 831.7 193.6 832.4 191.7 833.1 189.8 833.7 187.9 834.4 186.0 835.1 184.1 835.7 182.3 836.4 180.4 837.1 178.5 837.8 176.6 838.5 174.7 839.2 172.8 839.9 171.0 840.6 169.1 841.3 167.2 842.1 165.3 842.8 163.5 843.5 161.6 844.3 159.8 845.0 157.9 845.8 156.1 846.6 154.2 847.3 152.4 848.1 150.5 848.9 148.7 849.7 146.9 850.5 145.0 851.3 143.2 852.1 141.4 852.9 139.6 853.8 137.8 854.6 136.0 855.5 134.2 856.3 132.4 857.2 130.6 858.1 128.8 859.0 127.0 859.9 125.2 860.8 123.4 861.7 121.7 862.7 119.9 863.6 118.1 864.6 116.4 865.5 114.6 866.5 112.9 867.5 111.2 868.5 109.4 869.5 107.7 870.5 106.0 871.6 104.3 872.6 102.6 873.7 100.9 874.8 99.2 875.9 97.5 877.0 95.8 878.1 94.1 879.2 92.5 880.3 90.8 881.5 89.1 882.7 87.5 883.9 85.8 885.1 84.2 886.3 82.6 887.5 81.0 888.7 79.3 890.0 77.7 891.3 76.1 892.6 74.5 893.9 73.0 895.2 71.4 896.5 69.8 897.9 68.2 899.3 66.7 900.7 65.1 902.1 63.6 903.5 62.1 904.9 60.6 906.4 59.1 907.9 57.7 909.4 56.3 910.9 54.9 912.5 53.6 914.0 52.4 915.6 51.2 917.3 50.1 918.9 49.1 920.6 48.1 922.3 47.3 924.0 46.5 925.8 45.9 927.6 45.3 929.4 44.9 931.3 44.5 933.1 44.3 935.0 44.2 936.8 44.2 938.7 44.4 940.6 44.6 942.4 44.9 944.3 45.4 946.1 46.0 947.8 46.7 949.6 47.5 951.3 48.4 953.0 49.4 954.7 50.5 956.4 51.6 958.0 52.9 959.6 54.2 961.1 55.6 962.6 57.1 964.1 58.6 965.5 60.2 966.9 61.8 968.2 63.5 969.5 65.2 970.8 67.0 972.0 68.8 973.2 70.6 974.3 72.4 975.3 74.2 976.3 76.1 977.3 77.9 978.2 79.8 979.1 81.6 979.9 83.4 980.7 85.2 981.4 87.0 982.1 88.8 982.7 90.5 983.3 92.2" fill="none" stroke="#111" stroke-width="2.05" stroke-linejoin="round"/>
<path d="M584.8 91.0L585.6 92.9 586.4 94.7 587.2 96.6 588.0 98.4 588.7 100.3 589.5 102.2 590.2 104.0 591.0 105.9 591.7 107.8 592.4 109.6 593.1 111.5 593.8 113.4 594.5 115.3 595.2 117.2 595.9 119.1 596.6 121.0 597.2 122.9 597.9 124.8 598.5 126.7 599.1 128.6 599.8 130.5 600.4 132.4 601.0 134.3 601.6 136.2 602.2 138.1 602.8 140.0 603.3 141.9 603.9 143.9 604.5 145.8 605.0 147.7 605.6 149.6 606.1 151.6 606.6 153.5 607.1 155.4 607.7 157.4 608.2 159.3 608.7 161.2 609.1 163.2 609.6 165.1 610.1 167.1 610.6 169.0 611.0 171.0 611.5 172.9 611.9 174.9 612.3 176.8 612.8 178.8 613.2 180.7 613.6 182.7 614.0 184.6 614.4 186.6 614.8 188.6 615.2 190.5 615.6 192.5 615.9 194.4 616.3 196.4 616.7 198.4 617.0 200.4 617.4 202.3 617.7 204.3 618.0 206.3 618.3 208.3 618.7 210.2 619.0 212.2 619.3 214.2 619.6 216.2 619.9 218.1 620.1 220.1 620.4 222.1 620.7 224.1 621.0 226.1 621.2 228.1 621.5 230.1 621.7 232.0 622.0 234.0 622.2 236.0 622.4 238.0 622.6 240.0 622.9 242.0 623.1 244.0 623.3 246.0 623.5 248.0 623.7 250.0 623.8 252.0 624.0 254.0 624.2 256.0 624.4 258.0 624.5 260.0 624.7 262.0 624.8 264.0 625.0 266.0 625.1 268.0 625.3 270.0 625.4 272.0 625.5 274.0 625.7 276.0 625.8 278.0 625.9 280.0 626.0 282.0 626.1 284.0 626.2 286.0 626.3 288.0 626.4 290.0 626.4 292.0Q626.6 296.0 628.5 301.5L629.1 303.3 629.8 305.1 630.5 307.0 631.3 308.8 632.0 310.6 632.8 312.4 633.6 314.3 634.4 316.1 635.2 317.9 636.1 319.7 637.0 321.5 637.9 323.3 638.8 325.1 639.8 326.8 640.8 328.6 641.8 330.4 642.8 332.1 643.8 333.9 644.9 335.6 646.0 337.3 647.1 339.0 648.2 340.7 649.4 342.4 650.6 344.1 651.8 345.7 653.0 347.3 654.2 349.0 655.5 350.6 656.8 352.1 658.1 353.7 659.4 355.2 660.7 356.8 662.1 358.3 663.5 359.7 664.9 361.2 666.4 362.6 667.8 364.0 669.3 365.4 670.8 366.8 672.3 368.1 673.9 369.4 675.4 370.7 677.0 372.0 678.6 373.2 680.2 374.4 681.9 375.6 683.6 376.7 685.2 377.8 687.0 378.9 688.7 379.9 690.4 381.0 692.2 381.9 694.0 382.9 695.8 383.8 697.6 384.6 699.5 385.5 701.3 386.3 703.2 387.0 705.1 387.7 707.0 388.4 708.9 389.0 710.8 389.6 712.7 390.1 714.6 390.6 716.6 391.0 718.5 391.4 720.5 391.7 722.4 392.0 724.4 392.2 726.4 392.4 728.3 392.5 730.3 392.6 732.2 392.6 734.2 392.6 736.2 392.5 738.1 392.3 740.1 392.1 742.0 391.8 744.0 391.5 745.9 391.1 747.8 390.7 749.7 390.2 751.6 389.7 753.5 389.1 755.4 388.5 757.2 387.8 759.0 387.1 760.9 386.3 762.6 385.5 764.4 384.6 766.2 383.7 767.9 382.8 769.6 381.8 771.2 380.7 772.9 379.7 774.5 378.5 776.1 377.4 777.7 376.2 779.2 375.0 780.7 373.7 782.2 372.4 783.6 371.1 785.1 369.7 786.5 368.3 787.8 366.9 789.2 365.4 790.5 363.9 791.8 362.4 793.1 360.9 794.4 359.3 795.6 357.7 796.8 356.1 798.0 354.4 799.1 352.8 800.2 351.1 801.3 349.4 802.4 347.6 803.5 345.9 804.5 344.1 805.5 342.3 806.5 340.5 807.5 338.7 808.4 336.9 809.3 335.0 810.2 333.2 811.1 331.3 811.9 329.4 812.7 327.6 813.5 325.7 814.3 323.8 815.0 321.9 815.8 319.9 816.5 318.0 817.2 316.1 817.8 314.2 818.5 312.3 819.1 310.3 819.7 308.4 820.3 306.5 820.8 304.5 821.4 302.6 821.9 300.7 822.4 298.8 822.9 296.8 823.3 294.9 823.8 293.0 824.2 291.0 824.6 289.1 825.0 287.2 825.4 285.2 825.7 283.3 826.1 281.4 826.4 279.4 826.7 277.5 827.0 275.5 827.3 273.6 827.6 271.6 827.9 269.7 828.1 267.7 828.4 265.8 828.6 263.8 828.9 261.9 829.1 259.9 829.3 258.0 829.5 256.0 829.7 254.0 829.9 252.1 830.0 250.1 830.2 248.1 830.4 246.1 830.6 244.2 830.7 242.2 830.9 240.2 831.0 238.2 831.2 236.2 831.3 234.2 831.4 232.2 831.6 230.2 831.7 228.2 831.8 226.2 832.0 224.2 832.1 222.2 832.2 220.1 832.4 218.1 832.5 216.1Q832.8 212.0 833.6 208.0L834.0 205.9 834.5 204.0 835.0 202.0 835.5 200.0 836.0 198.0 836.5 196.1 837.1 194.1 837.7 192.2 838.2 190.3 838.9 188.4 839.5 186.5 840.1 184.6 840.8 182.7 841.5 180.8 842.2 179.0 842.9 177.1 843.6 175.3 844.4 173.4 845.1 171.6 845.9 169.7 846.7 167.9 847.5 166.1 848.3 164.3 849.1 162.5 849.9 160.7 850.8 158.9 851.6 157.1 852.5 155.3 853.4 153.5 854.2 151.7 855.1 149.9 856.0 148.1 857.0 146.4 857.9 144.6 858.8 142.8 859.8 141.0 860.7 139.3 861.6 137.5 862.6 135.7 863.6 134.0 864.5 132.2 865.5 130.4 866.5 128.7 867.5 126.9 868.5 125.1 869.5 123.3 870.5 121.6 871.5 119.8 872.5 118.1 873.6 116.3 874.6 114.6 875.7 112.8 876.7 111.1 877.8 109.4 878.9 107.7 880.0 106.0 881.2 104.3 882.3 102.6 883.5 100.9 884.7 99.3 885.9 97.7 887.1 96.0 888.3 94.4 889.6 92.9 890.9 91.3 892.2 89.8 893.5 88.2 894.8 86.7 896.2 85.2 897.6 83.8 899.1 82.3 900.5 80.9 902.0 79.5 903.5 78.2 905.1 76.9 906.6 75.5 908.2 74.3 909.9 73.0 911.5 71.8 913.2 70.7 914.9 69.6 916.6 68.5 918.4 67.5 920.1 66.5 921.9 65.7 923.7 64.8 925.5 64.1 927.4 63.4 929.2 62.8 931.0 62.2 932.9 61.8 934.7 61.4 936.6 61.1 938.5 60.9 940.3 60.8 942.2 60.8 944.1 60.9 945.9 61.2 947.8 61.5 949.6 61.9 951.5 62.5 953.3 63.1 955.1 63.9 956.9 64.8 958.7 65.8 960.5 66.8 962.2 68.0 963.9 69.2 965.6 70.5 967.2 71.8 968.8 73.3 970.3 74.8 971.8 76.3 973.3 77.9 974.7 79.5 976.0 81.1 977.2 82.8 978.4 84.5 979.6 86.2 980.6 88.0 981.6 89.7 982.5 91.5 983.3 93.2" fill="none" stroke="#111" stroke-width="2.05" stroke-linejoin="round" stroke-dasharray="10.5 9.5" stroke-dashoffset="-6"/>
<path d="M584.8 90.0L585.9 91.7 586.9 93.5 587.9 95.2 589.0 97.0 590.0 98.7 590.9 100.5 591.9 102.2 592.9 104.0 593.8 105.8 594.7 107.6 595.6 109.4 596.5 111.2 597.4 113.0 598.3 114.8 599.1 116.6 599.9 118.4 600.8 120.2 601.6 122.0 602.3 123.9 603.1 125.7 603.9 127.6 604.6 129.4 605.4 131.3 606.1 133.1 606.8 135.0 607.5 136.8 608.2 138.7 608.8 140.6 609.5 142.5 610.1 144.3 610.8 146.2 611.4 148.1 612.0 150.0 612.6 151.9 613.2 153.8 613.8 155.7 614.3 157.6 614.9 159.6 615.4 161.5 615.9 163.4 616.4 165.3 617.0 167.3 617.4 169.2 617.9 171.1 618.4 173.1 618.9 175.0 619.3 176.9 619.8 178.9 620.2 180.8 620.6 182.8 621.0 184.8 621.5 186.7 621.9 188.7 622.2 190.6 622.6 192.6 623.0 194.6 623.4 196.5 623.7 198.5 624.1 200.5 624.4 202.4 624.7 204.4 625.0 206.4 625.4 208.4 625.7 210.4 626.0 212.3 626.3 214.3 626.5 216.3 626.8 218.3 627.1 220.3 627.4 222.3 627.6 224.3 627.9 226.3 628.1 228.3 628.4 230.2 628.6 232.2 628.8 234.2 629.0 236.2 629.3 238.2 629.5 240.2 629.7 242.2 629.9 244.2 630.1 246.2 630.3 248.2 630.5 250.2 630.7 252.2 630.8 254.2 631.0 256.2 631.2 258.2 631.3 260.2 631.5 262.2 631.7 264.2 631.8 266.2 632.0 268.2 632.1 270.1 632.3 272.1 632.4 274.1 632.6 276.1 632.7 278.1 632.8 280.1 633.0 282.1 633.1 284.1Q633.5 290.0 635.6 295.4L636.4 297.2 637.1 299.0 638.0 300.8 638.8 302.6 639.7 304.4 640.6 306.2 641.5 308.0 642.4 309.8 643.4 311.5 644.4 313.3 645.5 315.0 646.5 316.8 647.6 318.5 648.7 320.2 649.8 321.9 651.0 323.6 652.2 325.3 653.4 326.9 654.6 328.6 655.9 330.2 657.2 331.8 658.5 333.3 659.8 334.9 661.2 336.4 662.6 337.9 664.0 339.4 665.4 340.9 666.9 342.3 668.3 343.7 669.8 345.1 671.4 346.5 672.9 347.8 674.5 349.1 676.1 350.4 677.7 351.6 679.3 352.8 681.0 353.9 682.6 355.1 684.3 356.2 686.1 357.2 687.8 358.2 689.6 359.2 691.3 360.2 693.1 361.1 694.9 361.9 696.8 362.7 698.6 363.5 700.5 364.3 702.4 365.0 704.2 365.6 706.1 366.3 708.1 366.8 710.0 367.4 711.9 367.9 713.9 368.4 715.8 368.8 717.8 369.2 719.7 369.5 721.7 369.8 723.7 370.1 725.7 370.3 727.7 370.5 729.6 370.6 731.6 370.7 733.6 370.8 735.6 370.8 737.6 370.7 739.6 370.7 741.6 370.6 743.5 370.4 745.5 370.2 747.5 370.0 749.4 369.7 751.4 369.4 753.3 369.0 755.3 368.6 757.2 368.1 759.1 367.6 761.0 367.1 762.9 366.5 764.8 365.9 766.6 365.2 768.5 364.5 770.3 363.7 772.1 362.9 773.9 362.1 775.7 361.2 777.4 360.2 779.2 359.3 780.9 358.2 782.6 357.2 784.3 356.1 785.9 355.0 787.5 353.8 789.1 352.6 790.7 351.3 792.3 350.0 793.8 348.7 795.3 347.4 796.8 346.0 798.2 344.6 799.6 343.2 801.0 341.7 802.4 340.2 803.7 338.7 805.0 337.1 806.3 335.6 807.5 334.0 808.7 332.3 809.9 330.7 811.0 329.0 812.1 327.4 813.2 325.6 814.2 323.9 815.3 322.2 816.2 320.4 817.2 318.6 818.1 316.8 819.0 315.0 819.9 313.2 820.8 311.4 821.6 309.5 822.4 307.7 823.1 305.8 823.9 303.9 824.6 302.0 825.2 300.1 825.9 298.2 826.5 296.3 827.1 294.4 827.7 292.5 828.2 290.5 828.8 288.6 829.3 286.6 829.8 284.7 830.2 282.7 830.7 280.7 831.1 278.8 831.5 276.8 831.9 274.8 832.3 272.8 832.6 270.8 833.0 268.8 833.3 266.8 833.6 264.8 833.9 262.8 834.2 260.8 834.4 258.8 834.7 256.8 834.9 254.8 835.1 252.8 835.4 250.8 835.6 248.8 835.8 246.8 836.0 244.7 836.1 242.7 836.3 240.7 836.5 238.7 836.6 236.7 836.8 234.7 836.9 232.7 837.1 230.7 837.2 228.7 837.4 226.7 837.5 224.7 837.6 222.7 837.8 220.8 837.9 218.8 838.0 216.8 838.2 214.9Q838.6 209.0 840.3 203.3L840.8 201.4 841.4 199.4 842.0 197.5 842.6 195.6 843.2 193.7 843.8 191.8 844.4 189.9 845.0 188.0 845.7 186.1 846.3 184.2 847.0 182.3 847.6 180.4 848.3 178.5 849.0 176.6 849.7 174.7 850.4 172.8 851.1 170.9 851.8 169.1 852.5 167.2 853.2 165.3 854.0 163.5 854.8 161.6 855.5 159.7 856.3 157.9 857.1 156.0 857.9 154.2 858.7 152.3 859.6 150.5 860.4 148.7 861.3 146.9 862.1 145.0 863.0 143.2 863.9 141.4 864.8 139.6 865.7 137.8 866.6 136.0 867.6 134.3 868.5 132.5 869.5 130.7 870.5 129.0 871.5 127.2 872.5 125.5 873.5 123.8 874.6 122.0 875.7 120.3 876.7 118.6 877.8 116.9 878.9 115.2 880.0 113.6 881.2 111.9 882.3 110.2 883.5 108.6 884.7 107.0 885.9 105.3 887.1 103.7 888.3 102.1 889.6 100.5 890.8 99.0 892.1 97.4 893.4 95.8 894.8 94.3 896.1 92.7 897.4 91.2 898.8 89.7 900.2 88.2 901.6 86.7 903.1 85.3 904.5 83.8 906.0 82.4 907.5 80.9 909.0 79.5 910.5 78.1 912.0 76.8 913.6 75.5 915.2 74.2 916.8 73.0 918.4 71.8 920.1 70.7 921.7 69.6 923.4 68.6 925.1 67.6 926.9 66.8 928.6 66.0 930.4 65.3 932.2 64.7 934.0 64.2 935.8 63.7 937.7 63.4 939.5 63.2 941.4 63.1 943.3 63.1 945.2 63.2 947.1 63.4 949.0 63.7 950.9 64.1 952.8 64.6 954.7 65.2 956.5 65.9 958.4 66.7 960.2 67.6 962.0 68.5 963.8 69.6 965.5 70.7 967.2 71.9 968.8 73.2 970.4 74.6 971.9 76.0 973.4 77.5 974.8 79.1 976.1 80.7 977.4 82.3 978.6 84.0 979.7 85.8 980.8 87.6 981.7 89.4 982.5 91.3 983.3 93.2" fill="none" stroke="#111" stroke-width="2.05" stroke-linejoin="round" stroke-dasharray="9.5 2.6 1.6 2.4 1.6 2.3"/>
<rect x="639.27" y="262.10" width="22.60" height="18.20" fill="#fff"/>
<rect x="716.88" y="262.10" width="33.80" height="18.20" fill="#fff"/>
<rect x="800.08" y="262.10" width="33.80" height="18.20" fill="#fff"/>
<rect x="883.29" y="262.10" width="33.80" height="18.20" fill="#fff"/>
<rect x="966.50" y="262.10" width="33.80" height="18.20" fill="#fff"/>
<rect x="584.80" y="31.30" width="398.60" height="379.10" fill="none" stroke="#151515" stroke-width="2.05"/>
<line x1="584.80" y1="258.70" x2="983.40" y2="258.70" stroke="#151515" stroke-width="2.05"/>
<text transform="translate(578.80 418.20) scale(0.92 1)" text-anchor="end" font-size="24.0" class="t k">-<tspan dx="2.0">140</tspan></text>
<text transform="translate(578.80 342.40) scale(0.92 1)" text-anchor="end" font-size="24.0" class="t k">-<tspan dx="2.0">70</tspan></text>
<text transform="translate(578.80 266.60) scale(0.92 1)" text-anchor="end" font-size="24.0" class="t k">0</text>
<text transform="translate(578.80 190.80) scale(0.92 1)" text-anchor="end" font-size="24.0" class="t k">70</text>
<text transform="translate(578.80 115.00) scale(0.92 1)" text-anchor="end" font-size="24.0" class="t k">140</text>
<text transform="translate(578.80 39.20) scale(0.92 1)" text-anchor="end" font-size="24.0" class="t k">210</text>
<text transform="translate(650.57 280.00) scale(0.92 1)" text-anchor="middle" font-size="24.0" class="t k">60</text>
<text transform="translate(733.77 280.00) scale(0.92 1)" text-anchor="middle" font-size="24.0" class="t k">135</text>
<text transform="translate(816.98 280.00) scale(0.92 1)" text-anchor="middle" font-size="24.0" class="t k">210</text>
<text transform="translate(900.19 280.00) scale(0.92 1)" text-anchor="middle" font-size="24.0" class="t k">285</text>
<text transform="translate(983.40 280.00) scale(0.92 1)" text-anchor="middle" font-size="24.0" class="t k">360</text>
<text x="784.00" y="435.80" text-anchor="middle" font-size="22.6" class="t b" textLength="186.2" lengthAdjust="spacingAndGlyphs">Phase angle (degree)</text>
<text transform="translate(533.80 219.80) rotate(-90)" text-anchor="middle" font-size="22.6" class="t b" textLength="256.3" lengthAdjust="spacingAndGlyphs">Instantaneous Velocity (m/s)</text>
<text x="586.00" y="21.80" font-size="27.6" class="t l">(b)</text>
<line x1="612.10" y1="54.70" x2="703.60" y2="54.70" stroke="#111" stroke-width="2.05"/>
<text x="719.40" y="61.20" font-size="19.5" class="t" textLength="82.0" lengthAdjust="spacingAndGlyphs">H=30 mm</text>
<line x1="612.10" y1="75.20" x2="703.60" y2="75.20" stroke="#111" stroke-width="2.05" stroke-dasharray="10.5 9.5"/>
<text x="719.40" y="81.70" font-size="19.5" class="t" textLength="82.0" lengthAdjust="spacingAndGlyphs">H=40 mm</text>
<line x1="612.10" y1="95.80" x2="703.60" y2="95.80" stroke="#111" stroke-width="2.05" stroke-dasharray="9.5 2.6 1.6 2.4 1.6 2.3"/>
<text x="719.40" y="102.30" font-size="19.5" class="t" textLength="82.0" lengthAdjust="spacingAndGlyphs">H=50 mm</text></g>
<g><line x1="364.80" y1="850.70" x2="370.70" y2="850.70" stroke="#999" stroke-width="0.95"/>
<line x1="364.80" y1="835.50" x2="370.70" y2="835.50" stroke="#999" stroke-width="0.95"/>
<line x1="364.80" y1="820.30" x2="370.70" y2="820.30" stroke="#999" stroke-width="0.95"/>
<line x1="364.80" y1="805.10" x2="370.70" y2="805.10" stroke="#999" stroke-width="0.95"/>
<line x1="364.80" y1="789.90" x2="375.30" y2="789.90" stroke="#111" stroke-width="1.70"/>
<line x1="364.80" y1="774.70" x2="370.70" y2="774.70" stroke="#999" stroke-width="0.95"/>
<line x1="364.80" y1="759.50" x2="370.70" y2="759.50" stroke="#999" stroke-width="0.95"/>
<line x1="364.80" y1="744.30" x2="370.70" y2="744.30" stroke="#999" stroke-width="0.95"/>
<line x1="364.80" y1="729.10" x2="370.70" y2="729.10" stroke="#999" stroke-width="0.95"/>
<line x1="364.80" y1="713.90" x2="375.30" y2="713.90" stroke="#111" stroke-width="1.70"/>
<line x1="364.80" y1="698.70" x2="370.70" y2="698.70" stroke="#999" stroke-width="0.95"/>
<line x1="364.80" y1="683.50" x2="370.70" y2="683.50" stroke="#999" stroke-width="0.95"/>
<line x1="364.80" y1="668.30" x2="370.70" y2="668.30" stroke="#999" stroke-width="0.95"/>
<line x1="364.80" y1="653.10" x2="370.70" y2="653.10" stroke="#999" stroke-width="0.95"/>
<line x1="364.80" y1="637.90" x2="375.30" y2="637.90" stroke="#111" stroke-width="1.70"/>
<line x1="364.80" y1="622.70" x2="370.70" y2="622.70" stroke="#999" stroke-width="0.95"/>
<line x1="364.80" y1="607.50" x2="370.70" y2="607.50" stroke="#999" stroke-width="0.95"/>
<line x1="364.80" y1="592.30" x2="370.70" y2="592.30" stroke="#999" stroke-width="0.95"/>
<line x1="364.80" y1="577.10" x2="370.70" y2="577.10" stroke="#999" stroke-width="0.95"/>
<line x1="364.80" y1="561.90" x2="375.30" y2="561.90" stroke="#111" stroke-width="1.70"/>
<line x1="364.80" y1="546.71" x2="370.70" y2="546.71" stroke="#999" stroke-width="0.95"/>
<line x1="364.80" y1="531.51" x2="370.70" y2="531.51" stroke="#999" stroke-width="0.95"/>
<line x1="364.80" y1="516.31" x2="370.70" y2="516.31" stroke="#999" stroke-width="0.95"/>
<line x1="364.80" y1="501.11" x2="370.70" y2="501.11" stroke="#999" stroke-width="0.95"/>
<line x1="380.74" y1="713.90" x2="380.74" y2="708.00" stroke="#999" stroke-width="0.95"/>
<line x1="397.38" y1="713.90" x2="397.38" y2="708.00" stroke="#999" stroke-width="0.95"/>
<line x1="414.02" y1="713.90" x2="414.02" y2="708.00" stroke="#999" stroke-width="0.95"/>
<line x1="430.67" y1="713.90" x2="430.67" y2="703.40" stroke="#111" stroke-width="1.70"/>
<line x1="447.31" y1="713.90" x2="447.31" y2="708.00" stroke="#999" stroke-width="0.95"/>
<line x1="463.95" y1="713.90" x2="463.95" y2="708.00" stroke="#999" stroke-width="0.95"/>
<line x1="480.59" y1="713.90" x2="480.59" y2="708.00" stroke="#999" stroke-width="0.95"/>
<line x1="497.23" y1="713.90" x2="497.23" y2="708.00" stroke="#999" stroke-width="0.95"/>
<line x1="513.88" y1="713.90" x2="513.88" y2="703.40" stroke="#111" stroke-width="1.70"/>
<line x1="530.52" y1="713.90" x2="530.52" y2="708.00" stroke="#999" stroke-width="0.95"/>
<line x1="547.16" y1="713.90" x2="547.16" y2="708.00" stroke="#999" stroke-width="0.95"/>
<line x1="563.80" y1="713.90" x2="563.80" y2="708.00" stroke="#999" stroke-width="0.95"/>
<line x1="580.44" y1="713.90" x2="580.44" y2="708.00" stroke="#999" stroke-width="0.95"/>
<line x1="597.08" y1="713.90" x2="597.08" y2="703.40" stroke="#111" stroke-width="1.70"/>
<line x1="613.72" y1="713.90" x2="613.72" y2="708.00" stroke="#999" stroke-width="0.95"/>
<line x1="630.37" y1="713.90" x2="630.37" y2="708.00" stroke="#999" stroke-width="0.95"/>
<line x1="647.01" y1="713.90" x2="647.01" y2="708.00" stroke="#999" stroke-width="0.95"/>
<line x1="663.65" y1="713.90" x2="663.65" y2="708.00" stroke="#999" stroke-width="0.95"/>
<line x1="680.29" y1="713.90" x2="680.29" y2="703.40" stroke="#111" stroke-width="1.70"/>
<line x1="696.93" y1="713.90" x2="696.93" y2="708.00" stroke="#999" stroke-width="0.95"/>
<line x1="713.57" y1="713.90" x2="713.57" y2="708.00" stroke="#999" stroke-width="0.95"/>
<line x1="730.22" y1="713.90" x2="730.22" y2="708.00" stroke="#999" stroke-width="0.95"/>
<line x1="746.86" y1="713.90" x2="746.86" y2="708.00" stroke="#999" stroke-width="0.95"/>
<path d="M364.8 533.0L365.6 534.9 366.3 536.7 367.0 538.6 367.8 540.5 368.5 542.4 369.2 544.3 369.9 546.1 370.6 548.0 371.3 549.9 371.9 551.8 372.6 553.7 373.3 555.6 373.9 557.5 374.5 559.4 375.2 561.3 375.8 563.2 376.4 565.1 377.0 567.0 377.6 569.0 378.2 570.9 378.7 572.8 379.3 574.7 379.9 576.6 380.4 578.6 380.9 580.5 381.5 582.4 382.0 584.4 382.5 586.3 383.0 588.2 383.5 590.2 384.0 592.1 384.5 594.1 385.0 596.0 385.4 597.9 385.9 599.9 386.3 601.8 386.8 603.8 387.2 605.7 387.7 607.7 388.1 609.7 388.5 611.6 388.9 613.6 389.3 615.5 389.7 617.5 390.1 619.5 390.5 621.4 390.8 623.4 391.2 625.4 391.6 627.3 391.9 629.3 392.3 631.3 392.6 633.3 392.9 635.2 393.2 637.2 393.6 639.2 393.9 641.2 394.2 643.1 394.5 645.1 394.8 647.1 395.1 649.1 395.4 651.1 395.6 653.1 395.9 655.1 396.2 657.0 396.4 659.0 396.7 661.0 396.9 663.0 397.2 665.0 397.4 667.0 397.6 669.0 397.9 671.0 398.1 673.0 398.3 675.0 398.5 677.0 398.7 679.0 398.9 681.0 399.1 683.0 399.3 685.0 399.5 687.0 399.7 689.0 399.8 691.0 400.0 693.0 400.2 695.0 400.3 697.0 400.5 699.0 400.7 701.0 400.8 703.0 401.0 705.0 401.1 707.0 401.2 709.0 401.4 711.0 401.5 713.0 401.6 715.0 401.7 717.0 401.9 719.0 402.0 721.0 402.1 723.0 402.2 725.0 402.3 727.0 402.4 729.0 402.5 731.0 402.6 733.0 402.7 735.0 402.8 737.0 402.9 739.0 402.9 741.0 403.0 743.0 403.1 745.0 403.2 747.0Q403.3 751.0 404.3 755.0L404.9 757.0 405.4 758.9 406.0 760.9 406.6 762.8 407.2 764.7 407.8 766.6 408.4 768.4 409.1 770.3 409.7 772.2 410.4 774.0 411.1 775.8 411.9 777.6 412.6 779.4 413.4 781.2 414.2 783.0 415.0 784.8 415.8 786.5 416.6 788.3 417.5 790.0 418.4 791.8 419.3 793.5 420.2 795.2 421.2 796.9 422.1 798.6 423.1 800.3 424.1 802.0 425.2 803.7 426.2 805.4 427.3 807.1 428.4 808.8 429.6 810.5 430.7 812.2 431.9 813.9 433.1 815.6 434.3 817.2 435.6 818.9 436.8 820.5 438.1 822.2 439.5 823.8 440.8 825.4 442.2 827.0 443.5 828.5 445.0 830.1 446.4 831.6 447.8 833.1 449.3 834.5 450.8 836.0 452.3 837.4 453.9 838.7 455.4 840.1 457.0 841.4 458.6 842.6 460.2 843.9 461.9 845.0 463.6 846.2 465.2 847.3 467.0 848.3 468.7 849.3 470.4 850.3 472.2 851.2 474.0 852.0 475.8 852.8 477.6 853.5 479.5 854.2 481.4 854.8 483.2 855.4 485.1 855.9 487.0 856.4 488.9 856.9 490.9 857.2 492.8 857.6 494.8 857.8 496.7 858.1 498.7 858.2 500.6 858.4 502.6 858.5 504.6 858.5 506.6 858.5 508.5 858.4 510.5 858.3 512.5 858.2 514.5 858.0 516.4 857.7 518.4 857.4 520.4 857.1 522.3 856.7 524.3 856.3 526.2 855.9 528.1 855.4 530.0 854.8 531.9 854.2 533.8 853.6 535.7 853.0 537.6 852.2 539.4 851.5 541.2 850.7 543.0 849.9 544.8 849.0 546.6 848.1 548.4 847.2 550.1 846.2 551.8 845.2 553.5 844.1 555.1 843.0 556.7 841.9 558.3 840.8 559.9 839.6 561.4 838.3 562.9 837.1 564.4 835.8 565.8 834.4 567.3 833.1 568.6 831.7 570.0 830.3 571.3 828.8 572.6 827.3 573.9 825.8 575.2 824.3 576.4 822.7 577.6 821.1 578.7 819.5 579.9 817.9 581.0 816.2 582.1 814.5 583.1 812.8 584.2 811.1 585.2 809.4 586.2 807.6 587.1 805.8 588.1 804.0 589.0 802.2 589.9 800.4 590.7 798.6 591.6 796.7 592.4 794.8 593.2 792.9 594.0 791.0 594.8 789.1 595.5 787.2 596.2 785.3 596.9 783.4 597.6 781.4 598.2 779.5 598.9 777.5 599.5 775.6 600.1 773.6 600.7 771.6 601.2 769.6 601.8 767.7 602.3 765.7 602.8 763.7 603.3 761.7 603.8 759.8 604.2 757.8 604.7 755.8 605.1 753.9 605.5 751.9 605.9 749.9 606.3 748.0 606.7 746.0 607.0 744.1 607.3 742.1 607.7 740.2 608.0 738.2 608.3 736.3 608.6 734.3 608.8 732.4 609.1 730.4 609.4 728.5 609.6 726.6 609.8 724.6 610.1 722.7 610.3 720.7 610.5 718.8 610.7 716.9 610.9 714.9 611.1 713.0 611.2 711.0 611.4 709.1 611.6 707.1 611.7 705.2 611.9 703.2 612.0 701.2 612.2 699.3 612.3 697.3 612.4 695.3 612.6 693.4 612.7 691.4 612.8 689.4 612.9 687.4 613.0 685.4 613.2 683.4 613.3 681.4 613.4 679.4 613.5 677.4 613.6 675.3 613.7 673.3 613.8 671.2 613.9 669.2 614.1 667.1Q614.3 663.0 615.4 659.1L615.9 657.1 616.4 655.2 617.0 653.3 617.5 651.3 618.1 649.4 618.7 647.4 619.2 645.5 619.8 643.6 620.3 641.7 620.9 639.7 621.5 637.8 622.1 635.9 622.7 634.0 623.3 632.0 623.9 630.1 624.5 628.2 625.1 626.3 625.7 624.4 626.3 622.5 626.9 620.6 627.6 618.7 628.2 616.8 628.9 615.0 629.5 613.1 630.2 611.2 630.8 609.3 631.5 607.4 632.2 605.6 632.9 603.7 633.6 601.8 634.3 600.0 635.0 598.1 635.7 596.3 636.5 594.4 637.2 592.6 637.9 590.7 638.7 588.9 639.5 587.1 640.2 585.2 641.0 583.4 641.8 581.6 642.6 579.8 643.4 578.0 644.2 576.2 645.1 574.3 645.9 572.5 646.8 570.8 647.6 569.0 648.5 567.2 649.4 565.4 650.3 563.6 651.2 561.8 652.1 560.1 653.0 558.3 654.0 556.6 654.9 554.8 655.9 553.0 656.9 551.3 657.9 549.6 658.9 547.8 659.9 546.1 660.9 544.4 661.9 542.7 663.0 540.9 664.0 539.2 665.1 537.5 666.2 535.8 667.3 534.1 668.4 532.4 669.6 530.8 670.7 529.1 671.9 527.4 673.1 525.8 674.3 524.1 675.5 522.4 676.7 520.8 677.9 519.1 679.2 517.5 680.4 515.9 681.7 514.2 683.0 512.6 684.3 511.0 685.7 509.4 687.0 507.8 688.4 506.3 689.8 504.8 691.2 503.3 692.7 501.8 694.1 500.4 695.6 499.1 697.2 497.8 698.7 496.6 700.3 495.4 701.9 494.3 703.6 493.3 705.3 492.4 707.0 491.5 708.8 490.8 710.6 490.1 712.4 489.6 714.2 489.1 716.1 488.8 717.9 488.6 719.8 488.6 721.6 488.6 723.4 488.9 725.3 489.2 727.1 489.7 728.8 490.3 730.6 491.0 732.3 491.8 734.0 492.8 735.7 493.8 737.4 494.9 739.0 496.1 740.6 497.4 742.1 498.8 743.6 500.2 745.1 501.7 746.5 503.3 747.9 504.9 749.3 506.6 750.6 508.3 751.8 510.0 753.0 511.8 754.1 513.6 755.2 515.4 756.3 517.2 757.3 519.0 758.3 520.8 759.2 522.6 760.1 524.4 761.0 526.2 761.8 527.9 762.5 529.6 763.3 531.2" fill="none" stroke="#111" stroke-width="2.05" stroke-linejoin="round"/>
<path d="M364.8 533.5L365.7 535.3 366.7 537.1 367.6 538.9 368.5 540.8 369.4 542.6 370.2 544.4 371.1 546.3 371.9 548.1 372.8 550.0 373.6 551.8 374.4 553.7 375.2 555.5 376.0 557.4 376.7 559.3 377.5 561.1 378.2 563.0 379.0 564.9 379.7 566.8 380.4 568.7 381.1 570.5 381.8 572.4 382.4 574.3 383.1 576.2 383.7 578.1 384.4 580.0 385.0 582.0 385.6 583.9 386.2 585.8 386.8 587.7 387.4 589.6 388.0 591.6 388.5 593.5 389.1 595.4 389.6 597.3 390.1 599.3 390.7 601.2 391.2 603.2 391.7 605.1 392.2 607.1 392.6 609.0 393.1 611.0 393.6 612.9 394.0 614.9 394.5 616.8 394.9 618.8 395.3 620.8 395.8 622.7 396.2 624.7 396.6 626.7 397.0 628.7 397.3 630.6 397.7 632.6 398.1 634.6 398.5 636.6 398.8 638.6 399.2 640.6 399.5 642.5 399.8 644.5 400.2 646.5 400.5 648.5 400.8 650.5 401.1 652.5 401.4 654.5 401.7 656.5 402.0 658.5 402.2 660.5 402.5 662.5 402.8 664.5 403.0 666.5 403.3 668.5 403.5 670.5 403.8 672.5 404.0 674.5 404.2 676.5 404.5 678.6 404.7 680.6 404.9 682.6 405.1 684.6 405.3 686.6 405.5 688.6 405.7 690.6 405.9 692.6 406.1 694.7 406.3 696.7 406.5 698.7 406.6 700.7 406.8 702.7 407.0 704.7 407.2 706.7 407.3 708.8 407.5 710.8 407.6 712.8 407.8 714.8 407.9 716.8 408.1 718.8 408.2 720.9 408.4 722.9 408.5 724.9 408.7 726.9 408.8 728.9 408.9 730.9 409.1 732.9 409.2 734.9 409.3 737.0 409.4 739.0 409.6 741.0 409.7 743.0 409.8 745.0 409.9 747.0 410.1 749.0Q410.3 753.0 412.1 758.5L412.8 760.3 413.4 762.1 414.1 764.0 414.8 765.8 415.6 767.7 416.3 769.5 417.1 771.3 417.9 773.2 418.7 775.0 419.5 776.8 420.4 778.6 421.3 780.4 422.2 782.2 423.1 784.0 424.1 785.8 425.0 787.6 426.0 789.4 427.0 791.2 428.1 792.9 429.1 794.6 430.2 796.4 431.3 798.1 432.4 799.8 433.6 801.5 434.7 803.2 435.9 804.8 437.1 806.4 438.3 808.1 439.6 809.7 440.9 811.3 442.2 812.8 443.5 814.4 444.8 815.9 446.2 817.4 447.6 818.9 449.0 820.3 450.4 821.8 451.8 823.2 453.3 824.5 454.8 825.9 456.3 827.2 457.9 828.5 459.4 829.8 461.0 831.0 462.6 832.2 464.2 833.4 465.9 834.5 467.5 835.7 469.2 836.7 470.9 837.8 472.7 838.8 474.4 839.8 476.2 840.7 478.0 841.6 479.8 842.5 481.7 843.3 483.5 844.1 485.4 844.8 487.3 845.5 489.2 846.2 491.1 846.8 493.0 847.4 494.9 847.9 496.9 848.4 498.8 848.9 500.8 849.3 502.7 849.7 504.7 850.0 506.7 850.2 508.6 850.5 510.6 850.6 512.6 850.8 514.6 850.8 516.5 850.9 518.5 850.8 520.5 850.8 522.4 850.6 524.4 850.5 526.3 850.2 528.3 850.0 530.2 849.6 532.1 849.2 534.1 848.8 536.0 848.3 537.9 847.7 539.7 847.1 541.6 846.5 543.4 845.8 545.3 845.1 547.1 844.3 548.8 843.4 550.6 842.6 552.4 841.6 554.1 840.7 555.8 839.7 557.4 838.6 559.1 837.5 560.7 836.4 562.3 835.2 563.9 834.0 565.4 832.8 566.9 831.5 568.4 830.2 569.8 828.8 571.2 827.4 572.6 826.0 574.0 824.6 575.3 823.1 576.6 821.6 577.9 820.1 579.2 818.5 580.4 816.9 581.6 815.3 582.8 813.7 584.0 812.0 585.1 810.3 586.2 808.6 587.3 806.9 588.4 805.2 589.4 803.4 590.4 801.7 591.4 799.9 592.4 798.1 593.4 796.3 594.3 794.5 595.2 792.7 596.1 790.8 597.0 789.0 597.8 787.1 598.7 785.2 599.5 783.4 600.3 781.5 601.0 779.6 601.8 777.8 602.5 775.9 603.3 774.0 604.0 772.1 604.6 770.2 605.3 768.3 605.9 766.4 606.6 764.5 607.2 762.6 607.8 760.7 608.3 758.8 608.9 756.9 609.4 754.9 609.9 753.0 610.4 751.1 610.9 749.2 611.3 747.2 611.8 745.3 612.2 743.4 612.6 741.4 613.0 739.5 613.3 737.5 613.7 735.6 614.0 733.6 614.3 731.7 614.6 729.7 614.9 727.8 615.2 725.8 615.4 723.9 615.7 721.9 615.9 719.9 616.1 718.0 616.3 716.0 616.5 714.0 616.7 712.0 616.9 710.1 617.0 708.1 617.2 706.1 617.3 704.1 617.5 702.1 617.6 700.1 617.7 698.1 617.8 696.2 617.9 694.2 618.0 692.2 618.1 690.2 618.2 688.2 618.3 686.2 618.3 684.2 618.4 682.1 618.5 680.1 618.5 678.1 618.6 676.1 618.6 674.1 618.7 672.1 618.7 670.1 618.8 668.1 618.8 666.0Q618.9 662.0 619.9 658.0L620.4 656.0 620.9 654.0 621.5 652.1 622.0 650.1 622.6 648.2 623.1 646.2 623.7 644.3 624.3 642.4 624.9 640.4 625.5 638.5 626.1 636.6 626.7 634.7 627.4 632.8 628.0 631.0 628.7 629.1 629.3 627.2 630.0 625.4 630.7 623.5 631.4 621.7 632.1 619.8 632.8 618.0 633.6 616.2 634.3 614.3 635.1 612.5 635.8 610.7 636.6 608.9 637.4 607.1 638.2 605.3 639.0 603.5 639.8 601.7 640.6 599.9 641.4 598.1 642.3 596.4 643.1 594.6 644.0 592.8 644.9 591.1 645.8 589.3 646.7 587.6 647.6 585.8 648.5 584.1 649.4 582.3 650.4 580.6 651.3 578.8 652.3 577.1 653.3 575.3 654.2 573.6 655.2 571.9 656.3 570.1 657.3 568.4 658.3 566.7 659.3 565.0 660.4 563.2 661.5 561.5 662.5 559.8 663.6 558.1 664.7 556.3 665.8 554.6 666.9 552.9 668.1 551.2 669.2 549.5 670.3 547.7 671.5 546.0 672.7 544.3 673.9 542.6 675.1 540.9 676.3 539.2 677.5 537.6 678.8 535.9 680.0 534.3 681.3 532.7 682.6 531.1 683.9 529.5 685.3 528.0 686.7 526.5 688.0 525.1 689.4 523.7 690.9 522.3 692.3 521.0 693.8 519.7 695.3 518.5 696.9 517.3 698.4 516.2 700.0 515.1 701.6 514.1 703.3 513.2 705.0 512.3 706.7 511.5 708.4 510.8 710.2 510.2 712.0 509.6 713.8 509.1 715.7 508.7 717.6 508.4 719.6 508.2 721.5 508.0 723.5 507.9 725.4 508.0 727.4 508.1 729.4 508.3 731.3 508.6 733.3 509.0 735.2 509.4 737.1 510.0 739.0 510.7 740.9 511.4 742.7 512.3 744.5 513.2 746.2 514.3 747.9 515.4 749.6 516.7 751.1 518.0 752.7 519.3 754.1 520.8 755.5 522.3 756.9 523.9 758.1 525.5 759.3 527.1 760.4 528.9 761.5 530.6 762.4 532.4 763.3 534.2" fill="none" stroke="#111" stroke-width="2.05" stroke-linejoin="round" stroke-dasharray="10.5 9.5" stroke-dashoffset="-5"/>
<path d="M364.8 533.5L365.8 535.3 366.7 537.1 367.7 538.9 368.6 540.6 369.5 542.4 370.4 544.2 371.3 546.1 372.2 547.9 373.0 549.7 373.9 551.5 374.7 553.3 375.5 555.1 376.3 557.0 377.2 558.8 377.9 560.7 378.7 562.5 379.5 564.3 380.2 566.2 381.0 568.0 381.7 569.9 382.5 571.8 383.2 573.6 383.9 575.5 384.6 577.4 385.2 579.2 385.9 581.1 386.6 583.0 387.2 584.9 387.9 586.8 388.5 588.7 389.1 590.5 389.7 592.4 390.3 594.3 390.9 596.2 391.5 598.2 392.0 600.1 392.6 602.0 393.1 603.9 393.7 605.8 394.2 607.7 394.7 609.6 395.2 611.6 395.7 613.5 396.2 615.4 396.7 617.4 397.2 619.3 397.7 621.2 398.1 623.2 398.6 625.1 399.0 627.1 399.4 629.0 399.9 630.9 400.3 632.9 400.7 634.8 401.1 636.8 401.5 638.8 401.9 640.7 402.3 642.7 402.6 644.6 403.0 646.6 403.3 648.6 403.7 650.5 404.0 652.5 404.4 654.5 404.7 656.4 405.0 658.4 405.3 660.4 405.6 662.4 405.9 664.3 406.2 666.3 406.5 668.3 406.8 670.3 407.1 672.3 407.3 674.2 407.6 676.2 407.9 678.2 408.1 680.2 408.3 682.2 408.6 684.2 408.8 686.2 409.0 688.2 409.3 690.1 409.5 692.1 409.7 694.1 409.9 696.1 410.1 698.1 410.3 700.1 410.5 702.1 410.7 704.1 410.9 706.1 411.0 708.1 411.2 710.1 411.4 712.1 411.6 714.1 411.7 716.1 411.9 718.1 412.0 720.1 412.2 722.1 412.3 724.1 412.5 726.1 412.6 728.1 412.7 730.0 412.9 732.0 413.0 734.0 413.1 736.0 413.2 738.0 413.4 740.0 413.5 742.0Q413.8 748.0 415.8 753.4L416.6 755.2 417.3 757.0 418.1 758.8 419.0 760.6 419.8 762.4 420.7 764.2 421.6 766.0 422.6 767.8 423.5 769.5 424.5 771.3 425.6 773.0 426.6 774.8 427.7 776.5 428.8 778.2 429.9 779.9 431.1 781.6 432.3 783.3 433.5 785.0 434.7 786.6 436.0 788.2 437.3 789.8 438.6 791.4 439.9 793.0 441.3 794.5 442.6 796.0 444.0 797.5 445.5 799.0 446.9 800.5 448.4 801.9 449.9 803.3 451.4 804.7 452.9 806.0 454.5 807.3 456.1 808.6 457.7 809.9 459.3 811.1 461.0 812.3 462.6 813.4 464.3 814.5 466.0 815.6 467.7 816.7 469.5 817.7 471.2 818.7 473.0 819.6 474.8 820.5 476.6 821.4 478.5 822.2 480.3 823.0 482.2 823.7 484.1 824.4 485.9 825.0 487.9 825.7 489.8 826.2 491.7 826.8 493.6 827.3 495.6 827.7 497.6 828.1 499.5 828.5 501.5 828.8 503.5 829.1 505.5 829.4 507.4 829.6 509.4 829.7 511.4 829.9 513.4 830.0 515.4 830.0 517.4 830.0 519.4 830.0 521.4 829.9 523.4 829.8 525.4 829.7 527.4 829.5 529.4 829.3 531.3 829.0 533.3 828.7 535.3 828.4 537.2 828.0 539.1 827.6 541.1 827.1 543.0 826.6 544.9 826.1 546.8 825.5 548.7 824.9 550.5 824.3 552.4 823.6 554.2 822.9 556.0 822.1 557.8 821.3 559.6 820.5 561.3 819.6 563.1 818.7 564.8 817.7 566.5 816.7 568.1 815.7 569.8 814.6 571.4 813.5 573.0 812.4 574.5 811.2 576.1 810.0 577.6 808.8 579.1 807.5 580.5 806.2 582.0 804.8 583.4 803.4 584.8 802.0 586.1 800.6 587.4 799.1 588.7 797.6 590.0 796.1 591.3 794.6 592.5 793.0 593.7 791.4 594.9 789.8 596.0 788.1 597.1 786.4 598.2 784.7 599.3 783.0 600.3 781.3 601.4 779.5 602.4 777.8 603.3 776.0 604.3 774.2 605.2 772.3 606.1 770.5 606.9 768.7 607.7 766.8 608.6 764.9 609.3 763.0 610.1 761.1 610.8 759.2 611.5 757.3 612.2 755.3 612.9 753.4 613.5 751.4 614.1 749.5 614.7 747.5 615.2 745.6 615.7 743.6 616.2 741.6 616.7 739.6 617.1 737.6 617.6 735.7 618.0 733.7 618.4 731.7 618.7 729.7 619.1 727.7 619.4 725.7 619.7 723.7 620.0 721.7 620.3 719.7 620.5 717.6 620.8 715.6 621.0 713.6 621.3 711.6 621.5 709.6 621.7 707.6 621.9 705.6 622.0 703.6 622.2 701.6 622.4 699.5 622.6 697.5 622.7 695.5 622.9 693.5 623.0 691.5 623.1 689.5 623.3 687.5 623.4 685.5 623.6 683.5 623.7 681.6 623.8 679.6 624.0 677.6 624.1 675.6 624.2 673.6 624.4 671.7 624.5 669.7 624.7 667.8 624.9 665.8Q625.4 660.0 626.0 655.9L626.4 653.8 626.8 651.8 627.2 649.8 627.6 647.8 628.1 645.8 628.6 643.8 629.1 641.9 629.6 640.0 630.2 638.0 630.7 636.1 631.3 634.2 632.0 632.3 632.6 630.5 633.3 628.6 634.0 626.7 634.7 624.9 635.4 623.0 636.1 621.2 636.8 619.3 637.6 617.5 638.4 615.7 639.2 613.9 640.0 612.0 640.8 610.2 641.6 608.4 642.4 606.6 643.2 604.8 644.1 603.0 644.9 601.2 645.8 599.3 646.7 597.5 647.5 595.7 648.4 593.9 649.3 592.0 650.1 590.2 651.0 588.4 651.9 586.5 652.8 584.7 653.7 582.9 654.6 581.0 655.5 579.2 656.4 577.4 657.4 575.5 658.3 573.7 659.3 571.9 660.3 570.1 661.2 568.3 662.2 566.5 663.2 564.7 664.3 563.0 665.3 561.2 666.4 559.5 667.4 557.7 668.5 556.0 669.6 554.3 670.8 552.6 671.9 551.0 673.1 549.3 674.3 547.7 675.5 546.1 676.7 544.5 678.0 542.9 679.3 541.3 680.6 539.8 681.9 538.3 683.3 536.8 684.7 535.4 686.1 534.0 687.5 532.6 689.0 531.2 690.5 529.8 692.1 528.5 693.6 527.3 695.2 526.0 696.9 524.8 698.5 523.6 700.2 522.5 702.0 521.4 703.7 520.3 705.5 519.4 707.3 518.4 709.1 517.5 710.9 516.7 712.8 515.9 714.6 515.2 716.5 514.6 718.4 514.1 720.3 513.6 722.2 513.2 724.1 512.9 726.0 512.7 727.9 512.6 729.8 512.5 731.7 512.6 733.6 512.8 735.5 513.0 737.3 513.4 739.2 513.9 741.0 514.5 742.9 515.2 744.7 516.1 746.4 517.0 748.2 518.0 749.9 519.2 751.5 520.4 753.1 521.7 754.7 523.1 756.1 524.6 757.5 526.2 758.9 527.8 760.1 529.6 761.3 531.4 762.3 533.3 763.3 535.2" fill="none" stroke="#111" stroke-width="2.05" stroke-linejoin="round" stroke-dasharray="9.5 2.6 1.6 2.4 1.6 2.3" stroke-dashoffset="-6.5"/>
<rect x="419.37" y="717.30" width="22.60" height="18.20" fill="#fff"/>
<rect x="496.98" y="717.30" width="33.80" height="18.20" fill="#fff"/>
<rect x="580.18" y="717.30" width="33.80" height="18.20" fill="#fff"/>
<rect x="663.39" y="717.30" width="33.80" height="18.20" fill="#fff"/>
<rect x="746.60" y="717.30" width="33.80" height="18.20" fill="#fff"/>
<rect x="364.80" y="486.30" width="398.70" height="379.60" fill="none" stroke="#151515" stroke-width="2.05"/>
<line x1="364.80" y1="713.90" x2="763.50" y2="713.90" stroke="#151515" stroke-width="2.05"/>
<text transform="translate(358.20 873.39) scale(0.92 1)" text-anchor="end" font-size="24.0" class="t k">-<tspan dx="2.0">150</tspan></text>
<text transform="translate(358.20 797.60) scale(0.92 1)" text-anchor="end" font-size="24.0" class="t k">-<tspan dx="2.0">75</tspan></text>
<text transform="translate(358.20 721.80) scale(0.92 1)" text-anchor="end" font-size="24.0" class="t k">0</text>
<text transform="translate(358.20 646.00) scale(0.92 1)" text-anchor="end" font-size="24.0" class="t k">75</text>
<text transform="translate(358.20 570.20) scale(0.92 1)" text-anchor="end" font-size="24.0" class="t k">150</text>
<text transform="translate(358.20 494.41) scale(0.92 1)" text-anchor="end" font-size="24.0" class="t k">225</text>
<text transform="translate(430.67 735.20) scale(0.92 1)" text-anchor="middle" font-size="24.0" class="t k">60</text>
<text transform="translate(513.88 735.20) scale(0.92 1)" text-anchor="middle" font-size="24.0" class="t k">135</text>
<text transform="translate(597.08 735.20) scale(0.92 1)" text-anchor="middle" font-size="24.0" class="t k">210</text>
<text transform="translate(680.29 735.20) scale(0.92 1)" text-anchor="middle" font-size="24.0" class="t k">285</text>
<text transform="translate(763.50 735.20) scale(0.92 1)" text-anchor="middle" font-size="24.0" class="t k">360</text>
<text x="564.00" y="890.90" text-anchor="middle" font-size="22.6" class="t b" textLength="186.2" lengthAdjust="spacingAndGlyphs">Phase angle (degree)</text>
<text transform="translate(313.80 674.80) rotate(-90)" text-anchor="middle" font-size="22.6" class="t b" textLength="256.3" lengthAdjust="spacingAndGlyphs">Instantaneous Velocity (m/s)</text>
<text x="365.20" y="477.40" font-size="27.6" class="t l">(c)</text>
<line x1="395.30" y1="505.70" x2="486.10" y2="505.70" stroke="#111" stroke-width="2.05"/>
<text x="502.70" y="512.20" font-size="19.5" class="t" textLength="81.5" lengthAdjust="spacingAndGlyphs">H=30 mm</text>
<line x1="395.30" y1="526.00" x2="486.10" y2="526.00" stroke="#111" stroke-width="2.05" stroke-dasharray="10.5 9.5"/>
<text x="502.70" y="532.50" font-size="19.5" class="t" textLength="81.5" lengthAdjust="spacingAndGlyphs">H=40 mm</text>
<line x1="395.30" y1="546.00" x2="486.10" y2="546.00" stroke="#111" stroke-width="2.05" stroke-dasharray="9.5 2.6 1.6 2.4 1.6 2.3"/>
<text x="502.70" y="552.50" font-size="19.5" class="t" textLength="81.5" lengthAdjust="spacingAndGlyphs">H=50 mm</text></g>
</svg>
</body></html>
